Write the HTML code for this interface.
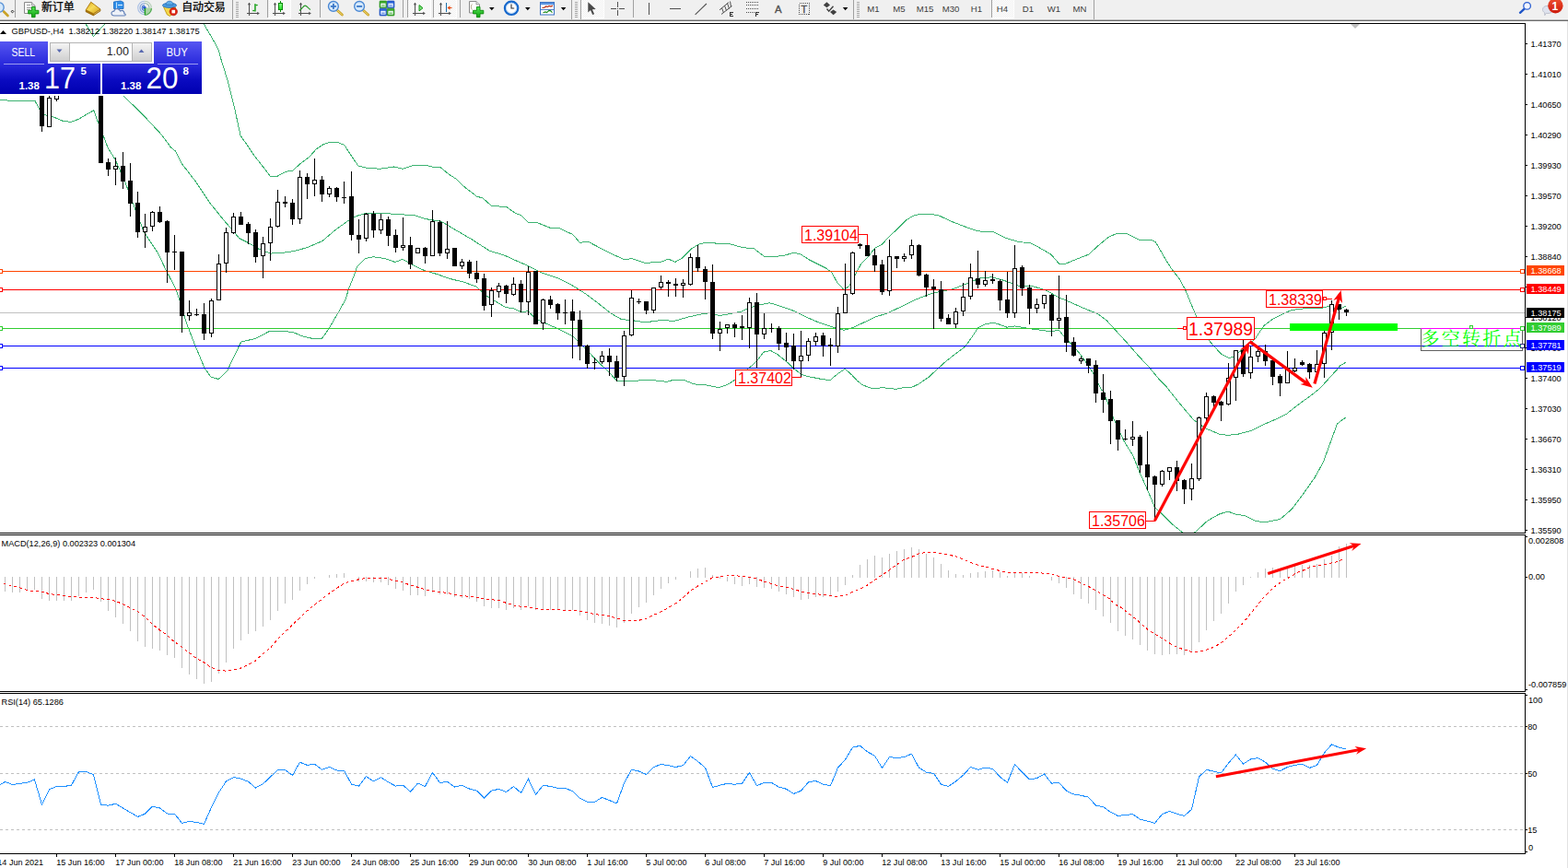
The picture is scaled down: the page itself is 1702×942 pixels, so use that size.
<!DOCTYPE html>
<html><head><meta charset="utf-8"><title>GBPUSD H4</title>
<style>html,body{margin:0;padding:0;background:#fff;overflow:hidden}body{width:1702px;height:942px;position:relative;font-family:"Liberation Sans",sans-serif}</style></head>
<body>
<svg width="1702" height="942" viewBox="0 0 1702 942" style="position:absolute;left:0;top:0">
<defs>
<clipPath id="cm"><rect x="0" y="26" width="1655" height="552"/></clipPath>
<linearGradient id="gb1" x1="0" y1="0" x2="0" y2="1"><stop offset="0" stop-color="#5656f2"/><stop offset="1" stop-color="#2a2adc"/></linearGradient>
<linearGradient id="gb2" x1="0" y1="0" x2="0" y2="1"><stop offset="0" stop-color="#2c2cde"/><stop offset="0.55" stop-color="#0a0ac0"/><stop offset="1" stop-color="#0000b0"/></linearGradient>
<linearGradient id="gbtn" x1="0" y1="0" x2="0" y2="1"><stop offset="0" stop-color="#f4f4f4"/><stop offset="1" stop-color="#cfcfcf"/></linearGradient>
<linearGradient id="gred" x1="0" y1="0" x2="0" y2="1"><stop offset="0" stop-color="#ee5030"/><stop offset="1" stop-color="#cc1a0c"/></linearGradient>
<linearGradient id="ggr" x1="0" y1="0" x2="0" y2="1"><stop offset="0" stop-color="#58e858"/><stop offset="1" stop-color="#10a010"/></linearGradient>
<pattern id="hatch" width="2" height="2" patternUnits="userSpaceOnUse"><rect width="2" height="2" fill="#f0f0f0"/><rect width="1" height="1" fill="#ffffff"/><rect x="1" y="1" width="1" height="1" fill="#ffffff"/></pattern>
<linearGradient id="ggr2" x1="0" y1="0" x2="0" y2="1"><stop offset="0" stop-color="#8cff8c"/><stop offset="1" stop-color="#1ee01e"/></linearGradient>
</defs>
<rect width="1702" height="942" fill="#fff"/>
<g clip-path="url(#cm)" shape-rendering="crispEdges">
<polyline fill="none" stroke="#3cb371" stroke-width="1" points="91.8,24.0 101.4,39.5 115.8,24.0"/>
<polyline fill="none" stroke="#3cb371" stroke-width="1" points="220.2,24.0 220.7,25.0 233.0,46.2 237.6,55.1 240.0,64.5 247.0,87.0 254.5,117.1 261.1,147.2 270.1,160.0 275.2,167.9 285.5,181.0 293.1,191.0 301.5,191.0 310.0,186.3 317.5,185.2 326.0,177.7 335.4,170.7 342.9,162.2 350.4,157.0 357.9,154.3 366.4,154.3 373.9,157.5 380.5,167.9 389.0,180.1 397.4,182.0 412.5,183.3 427.5,181.0 436.9,183.3 448.2,179.5 463.2,179.5 468.9,181.0 477.3,181.0 487.7,189.5 495.2,194.2 502.7,201.7 517.5,213.2 524.1,215.0 533.5,223.5 549.5,224.4 559.8,231.6 565.4,233.5 573.0,241.0 582.4,241.4 597.4,247.4 606.8,247.6 621.8,254.5 629.4,263.4 637.8,262.0 663.2,275.2 678.2,281.8 685.8,280.5 700.8,285.5 718.8,283.9 725.4,281.1 732.9,284.3 740.4,280.2 750.8,269.8 758.3,265.1 765.8,263.2 779.0,264.2 792.1,264.7 805.3,268.5 818.4,269.8 829.7,278.3 842.9,278.3 852.3,277.0 861.7,274.1 869.2,276.0 878.6,282.0 888.0,286.7 897.4,291.4 903.0,296.1 908.7,306.5 916.2,314.6 921.8,310.2 928.4,298.0 935.0,285.8 942.5,278.3 950.0,268.9 957.6,265.1 965.1,256.7 974.5,248.2 983.9,238.8 991.4,234.1 998.9,232.2 1010.2,232.2 1019.6,234.1 1032.0,240.0 1046.7,245.7 1061.0,250.8 1079.0,251.9 1092.1,258.5 1107.2,262.8 1118.4,263.5 1131.6,270.7 1141.0,276.3 1149.5,286.1 1157.0,286.1 1169.2,281.0 1181.4,276.3 1191.8,266.9 1203.0,257.5 1212.4,253.2 1222.8,253.4 1236.9,260.3 1250.0,260.3 1254.7,263.2 1263.2,278.2 1270.7,290.4 1280.1,302.7 1286.2,313.5 1293.3,330.8 1298.9,344.0 1306.3,359.1 1313.0,370.3 1319.6,377.8 1326.1,384.6 1334.3,388.7 1339.2,387.1 1350.0,378.0 1361.8,368.5 1372.1,353.3 1382.0,345.9 1391.9,341.0 1401.7,336.6 1411.6,335.2 1423.1,334.1 1435.5,334.1 1442.9,332.4 1452.7,336.1 1460.6,332.3"/>
<polyline fill="none" stroke="#3cb371" stroke-width="1" points="100.0,78.0 134.1,104.2 153.9,123.2 175.0,145.8 185.5,160.0 190.6,164.2 196.8,176.9 212.8,197.6 227.8,220.2 242.9,239.0 250.4,247.4 259.8,258.7 269.2,263.4 280.5,270.0 293.7,275.1 306.8,274.3 320.0,272.4 333.1,268.7 350.0,261.5 363.2,250.2 378.2,239.3 387.6,234.3 397.0,231.4 408.3,231.1 417.9,231.6 450.8,233.8 462.0,237.6 479.0,240.4 494.0,249.3 512.8,260.2 531.6,272.4 546.7,276.7 559.8,282.7 573.0,288.4 588.0,295.9 604.9,301.5 620.0,309.0 635.0,318.4 650.0,329.7 663.2,340.1 674.5,346.6 685.8,347.6 700.8,349.8 710.2,348.5 718.8,347.5 732.0,348.4 747.0,344.1 763.9,340.3 771.4,339.8 780.8,342.6 794.0,340.3 805.3,337.9 812.8,334.1 824.1,330.9 835.4,328.7 846.7,332.2 859.8,336.6 873.0,343.1 888.0,349.7 905.0,355.4 916.2,358.2 925.6,355.7 936.9,350.3 950.0,344.1 963.2,339.9 978.2,332.8 993.3,325.3 1008.3,319.6 1015.0,317.7 1033.8,313.9 1050.8,307.3 1063.9,301.7 1077.1,300.8 1090.2,304.5 1105.3,310.2 1120.3,310.5 1135.4,314.9 1148.5,322.4 1161.7,328.0 1176.7,334.6 1191.8,340.8 1201.2,347.8 1210.6,358.1 1221.8,370.3 1235.0,385.4 1248.2,399.5 1257.6,411.0 1265.3,418.8 1280.3,437.6 1295.4,455.5 1308.5,464.9 1323.6,471.1 1333.0,472.4 1344.2,471.1 1357.4,467.7 1370.6,461.1 1383.7,455.5 1396.9,448.9 1410.0,438.5 1423.2,429.1 1432.6,421.6 1442.0,411.3 1451.4,400.9 1454.4,396.9 1461.0,393.1"/>
<polyline fill="none" stroke="#3cb371" stroke-width="1" points="0.0,108.4 18.4,109.8 37.8,109.1 43.0,119.0 48.0,124.6 56.5,126.3 68.5,131.4 76.9,132.4 84.7,129.6 101.7,119.7 106.6,133.1 112.2,147.2 116.9,160.0 125.5,174.0 135.5,196.6 144.2,220.2 156.4,252.1 171.4,274.7 180.8,294.4 191.2,314.2 195.9,328.2 202.5,350.8 211.9,375.2 222.2,399.6 228.8,409.0 237.2,411.5 246.6,402.5 254.2,386.5 261.7,371.1 277.7,367.3 291.8,359.8 304.0,359.2 318.1,360.5 328.4,364.9 338.8,367.3 349.7,367.1 356.6,357.3 367.0,339.5 375.4,324.4 378.2,314.2 383.9,300.0 387.6,289.7 397.0,280.3 405.5,278.8 409.4,279.3 418.8,280.8 429.1,284.6 436.7,281.2 447.0,286.9 460.2,293.4 475.2,297.8 488.4,302.5 503.4,306.2 516.6,310.9 529.7,322.2 539.1,327.8 548.5,333.5 557.9,335.0 566.6,338.9 573.2,337.6 581.6,346.1 592.0,350.8 607.0,357.3 622.0,364.9 635.2,378.0 648.4,392.1 659.6,402.5 669.6,413.4 687.8,413.4 704.8,412.2 723.6,414.3 729.2,412.8 742.4,412.4 753.6,416.9 766.8,417.9 780.0,420.7 789.4,417.5 798.4,411.9 813.8,398.7 821.3,392.1 828.8,382.2 836.4,380.3 843.9,384.6 853.3,392.1 860.8,399.1 869.9,406.4 876.9,408.5 892.5,411.6 900.9,412.7 909.4,405.6 917.2,400.4 924.9,407.1 930.6,413.4 936.2,417.7 946.1,421.5 958.8,420.8 972.9,422.3 981.4,420.5 989.9,420.2 996.9,416.9 1008.2,409.2 1018.1,400.0 1026.6,392.2 1036.5,384.5 1047.8,376.0 1056.2,364.0 1061.9,355.5 1069.0,352.0 1077.4,350.2 1084.5,352.0 1093.0,355.2 1101.5,354.0 1118.4,356.8 1131.6,358.5 1141.0,360.0 1149.5,358.1 1156.0,366.6 1167.3,377.8 1176.7,390.1 1186.1,404.2 1195.5,423.0 1197.6,424.4 1208.9,454.5 1220.2,479.0 1229.6,494.0 1237.1,512.8 1245.5,531.6 1253.4,550.4 1261.5,557.9 1272.8,569.2 1282.2,576.7 1290.0,582.0 1298.2,576.7 1310.4,565.4 1323.6,557.9 1333.0,555.1 1340.5,557.9 1351.8,559.8 1363.0,565.4 1372.4,566.9 1389.4,563.6 1402.5,552.3 1413.8,537.2 1427.0,518.4 1436.4,501.5 1443.9,480.8 1451.4,460.2 1457.0,455.5 1460.8,453.2"/>
<rect x="0" y="294" width="1655" height="1" fill="#ff4500"/>
<rect x="0" y="314" width="1655" height="1" fill="#ff0000"/>
<rect x="0" y="339" width="1655" height="1" fill="#c0c0c0"/>
<rect x="0" y="356" width="1655" height="1" fill="#32cd32"/>
<rect x="0" y="375" width="1655" height="1" fill="#0000ff"/>
<rect x="0" y="399" width="1655" height="1" fill="#0000ff"/>
<rect x="45" y="60" width="1" height="83" fill="#000"/>
<rect x="43" y="60" width="5" height="77" fill="#000"/>
<rect x="53" y="95" width="1" height="43" fill="#000"/>
<rect x="51" y="106" width="5" height="32" fill="#000"/>
<rect x="52" y="107" width="3" height="30" fill="#fff"/>
<rect x="61" y="95" width="1" height="15" fill="#000"/>
<rect x="59" y="95" width="5" height="13" fill="#000"/>
<rect x="60" y="96" width="3" height="11" fill="#fff"/>
<rect x="109" y="60" width="1" height="117" fill="#000"/>
<rect x="107" y="60" width="5" height="117" fill="#000"/>
<rect x="117" y="172" width="1" height="19" fill="#000"/>
<rect x="115" y="176" width="5" height="8" fill="#000"/>
<rect x="125" y="171" width="1" height="30" fill="#000"/>
<rect x="123" y="180" width="5" height="4" fill="#000"/>
<rect x="124" y="181" width="3" height="2" fill="#fff"/>
<rect x="133" y="165" width="1" height="40" fill="#000"/>
<rect x="131" y="180" width="5" height="17" fill="#000"/>
<rect x="141" y="177" width="1" height="58" fill="#000"/>
<rect x="139" y="196" width="5" height="25" fill="#000"/>
<rect x="149" y="208" width="1" height="50" fill="#000"/>
<rect x="147" y="220" width="5" height="32" fill="#000"/>
<rect x="157" y="232" width="1" height="37" fill="#000"/>
<rect x="155" y="246" width="5" height="6" fill="#000"/>
<rect x="156" y="247" width="3" height="4" fill="#fff"/>
<rect x="165" y="229" width="1" height="22" fill="#000"/>
<rect x="163" y="230" width="5" height="16" fill="#000"/>
<rect x="164" y="231" width="3" height="14" fill="#fff"/>
<rect x="173" y="224" width="1" height="18" fill="#000"/>
<rect x="171" y="230" width="5" height="11" fill="#000"/>
<rect x="181" y="239" width="1" height="68" fill="#000"/>
<rect x="179" y="240" width="5" height="34" fill="#000"/>
<rect x="189" y="255" width="1" height="38" fill="#000"/>
<rect x="187" y="273" width="5" height="1" fill="#000"/>
<rect x="197" y="273" width="1" height="88" fill="#000"/>
<rect x="195" y="273" width="5" height="70" fill="#000"/>
<rect x="205" y="326" width="1" height="22" fill="#000"/>
<rect x="203" y="339" width="5" height="4" fill="#000"/>
<rect x="204" y="340" width="3" height="2" fill="#fff"/>
<rect x="213" y="335" width="1" height="8" fill="#000"/>
<rect x="211" y="341" width="5" height="1" fill="#000"/>
<rect x="221" y="329" width="1" height="40" fill="#000"/>
<rect x="219" y="341" width="5" height="21" fill="#000"/>
<rect x="229" y="324" width="1" height="42" fill="#000"/>
<rect x="227" y="326" width="5" height="36" fill="#000"/>
<rect x="228" y="327" width="3" height="34" fill="#fff"/>
<rect x="237" y="276" width="1" height="50" fill="#000"/>
<rect x="235" y="286" width="5" height="40" fill="#000"/>
<rect x="236" y="287" width="3" height="38" fill="#fff"/>
<rect x="245" y="247" width="1" height="49" fill="#000"/>
<rect x="243" y="252" width="5" height="34" fill="#000"/>
<rect x="244" y="253" width="3" height="32" fill="#fff"/>
<rect x="253" y="231" width="1" height="23" fill="#000"/>
<rect x="251" y="235" width="5" height="18" fill="#000"/>
<rect x="252" y="236" width="3" height="16" fill="#fff"/>
<rect x="261" y="230" width="1" height="14" fill="#000"/>
<rect x="259" y="235" width="5" height="9" fill="#000"/>
<rect x="269" y="241" width="1" height="24" fill="#000"/>
<rect x="267" y="243" width="5" height="10" fill="#000"/>
<rect x="277" y="249" width="1" height="36" fill="#000"/>
<rect x="275" y="252" width="5" height="27" fill="#000"/>
<rect x="285" y="257" width="1" height="45" fill="#000"/>
<rect x="283" y="264" width="5" height="14" fill="#000"/>
<rect x="284" y="265" width="3" height="12" fill="#fff"/>
<rect x="293" y="237" width="1" height="46" fill="#000"/>
<rect x="291" y="246" width="5" height="18" fill="#000"/>
<rect x="292" y="247" width="3" height="16" fill="#fff"/>
<rect x="301" y="206" width="1" height="41" fill="#000"/>
<rect x="299" y="219" width="5" height="27" fill="#000"/>
<rect x="300" y="220" width="3" height="25" fill="#fff"/>
<rect x="309" y="213" width="1" height="12" fill="#000"/>
<rect x="307" y="219" width="5" height="2" fill="#000"/>
<rect x="317" y="216" width="1" height="28" fill="#000"/>
<rect x="315" y="220" width="5" height="18" fill="#000"/>
<rect x="325" y="185" width="1" height="58" fill="#000"/>
<rect x="323" y="192" width="5" height="46" fill="#000"/>
<rect x="324" y="193" width="3" height="44" fill="#fff"/>
<rect x="333" y="188" width="1" height="28" fill="#000"/>
<rect x="331" y="192" width="5" height="8" fill="#000"/>
<rect x="341" y="172" width="1" height="41" fill="#000"/>
<rect x="339" y="195" width="5" height="5" fill="#000"/>
<rect x="340" y="196" width="3" height="3" fill="#fff"/>
<rect x="349" y="191" width="1" height="28" fill="#000"/>
<rect x="347" y="195" width="5" height="16" fill="#000"/>
<rect x="357" y="202" width="1" height="12" fill="#000"/>
<rect x="355" y="204" width="5" height="7" fill="#000"/>
<rect x="356" y="205" width="3" height="5" fill="#fff"/>
<rect x="365" y="203" width="1" height="16" fill="#000"/>
<rect x="363" y="204" width="5" height="10" fill="#000"/>
<rect x="373" y="197" width="1" height="24" fill="#000"/>
<rect x="371" y="214" width="5" height="1" fill="#000"/>
<rect x="381" y="186" width="1" height="75" fill="#000"/>
<rect x="379" y="213" width="5" height="42" fill="#000"/>
<rect x="389" y="238" width="1" height="37" fill="#000"/>
<rect x="387" y="255" width="5" height="5" fill="#000"/>
<rect x="397" y="231" width="1" height="31" fill="#000"/>
<rect x="395" y="232" width="5" height="27" fill="#000"/>
<rect x="396" y="233" width="3" height="25" fill="#fff"/>
<rect x="405" y="229" width="1" height="29" fill="#000"/>
<rect x="403" y="232" width="5" height="18" fill="#000"/>
<rect x="413" y="232" width="1" height="22" fill="#000"/>
<rect x="411" y="238" width="5" height="12" fill="#000"/>
<rect x="412" y="239" width="3" height="10" fill="#fff"/>
<rect x="421" y="235" width="1" height="32" fill="#000"/>
<rect x="419" y="238" width="5" height="18" fill="#000"/>
<rect x="429" y="249" width="1" height="25" fill="#000"/>
<rect x="427" y="255" width="5" height="14" fill="#000"/>
<rect x="437" y="236" width="1" height="36" fill="#000"/>
<rect x="435" y="266" width="5" height="3" fill="#000"/>
<rect x="436" y="267" width="3" height="1" fill="#fff"/>
<rect x="445" y="257" width="1" height="35" fill="#000"/>
<rect x="443" y="266" width="5" height="21" fill="#000"/>
<rect x="453" y="269" width="1" height="6" fill="#000"/>
<rect x="451" y="269" width="5" height="6" fill="#000"/>
<rect x="452" y="270" width="3" height="4" fill="#fff"/>
<rect x="461" y="268" width="1" height="18" fill="#000"/>
<rect x="459" y="269" width="5" height="9" fill="#000"/>
<rect x="469" y="228" width="1" height="50" fill="#000"/>
<rect x="467" y="240" width="5" height="38" fill="#000"/>
<rect x="468" y="241" width="3" height="36" fill="#fff"/>
<rect x="477" y="239" width="1" height="39" fill="#000"/>
<rect x="475" y="241" width="5" height="34" fill="#000"/>
<rect x="485" y="240" width="1" height="41" fill="#000"/>
<rect x="483" y="270" width="5" height="5" fill="#000"/>
<rect x="484" y="271" width="3" height="3" fill="#fff"/>
<rect x="493" y="269" width="1" height="20" fill="#000"/>
<rect x="491" y="269" width="5" height="20" fill="#000"/>
<rect x="501" y="281" width="1" height="11" fill="#000"/>
<rect x="499" y="284" width="5" height="5" fill="#000"/>
<rect x="500" y="285" width="3" height="3" fill="#fff"/>
<rect x="509" y="282" width="1" height="20" fill="#000"/>
<rect x="507" y="284" width="5" height="13" fill="#000"/>
<rect x="517" y="283" width="1" height="24" fill="#000"/>
<rect x="515" y="296" width="5" height="7" fill="#000"/>
<rect x="525" y="297" width="1" height="40" fill="#000"/>
<rect x="523" y="302" width="5" height="30" fill="#000"/>
<rect x="533" y="312" width="1" height="32" fill="#000"/>
<rect x="531" y="315" width="5" height="16" fill="#000"/>
<rect x="532" y="316" width="3" height="14" fill="#fff"/>
<rect x="541" y="307" width="1" height="16" fill="#000"/>
<rect x="539" y="310" width="5" height="7" fill="#000"/>
<rect x="540" y="311" width="3" height="5" fill="#fff"/>
<rect x="549" y="309" width="1" height="20" fill="#000"/>
<rect x="547" y="310" width="5" height="9" fill="#000"/>
<rect x="557" y="301" width="1" height="20" fill="#000"/>
<rect x="555" y="308" width="5" height="12" fill="#000"/>
<rect x="556" y="309" width="3" height="10" fill="#fff"/>
<rect x="565" y="304" width="1" height="35" fill="#000"/>
<rect x="563" y="308" width="5" height="20" fill="#000"/>
<rect x="573" y="289" width="1" height="53" fill="#000"/>
<rect x="571" y="295" width="5" height="33" fill="#000"/>
<rect x="572" y="296" width="3" height="31" fill="#fff"/>
<rect x="581" y="294" width="1" height="58" fill="#000"/>
<rect x="579" y="294" width="5" height="58" fill="#000"/>
<rect x="589" y="324" width="1" height="34" fill="#000"/>
<rect x="587" y="325" width="5" height="26" fill="#000"/>
<rect x="588" y="326" width="3" height="24" fill="#fff"/>
<rect x="597" y="321" width="1" height="14" fill="#000"/>
<rect x="595" y="325" width="5" height="6" fill="#000"/>
<rect x="605" y="329" width="1" height="18" fill="#000"/>
<rect x="603" y="330" width="5" height="10" fill="#000"/>
<rect x="613" y="325" width="1" height="27" fill="#000"/>
<rect x="611" y="339" width="5" height="1" fill="#000"/>
<rect x="621" y="325" width="1" height="64" fill="#000"/>
<rect x="619" y="338" width="5" height="10" fill="#000"/>
<rect x="629" y="337" width="1" height="54" fill="#000"/>
<rect x="627" y="347" width="5" height="29" fill="#000"/>
<rect x="637" y="374" width="1" height="26" fill="#000"/>
<rect x="635" y="375" width="5" height="20" fill="#000"/>
<rect x="645" y="388" width="1" height="13" fill="#000"/>
<rect x="643" y="393" width="5" height="1" fill="#000"/>
<rect x="653" y="381" width="1" height="14" fill="#000"/>
<rect x="651" y="386" width="5" height="7" fill="#000"/>
<rect x="652" y="387" width="3" height="5" fill="#fff"/>
<rect x="661" y="378" width="1" height="30" fill="#000"/>
<rect x="659" y="386" width="5" height="7" fill="#000"/>
<rect x="669" y="386" width="1" height="28" fill="#000"/>
<rect x="667" y="392" width="5" height="18" fill="#000"/>
<rect x="677" y="359" width="1" height="60" fill="#000"/>
<rect x="675" y="364" width="5" height="45" fill="#000"/>
<rect x="676" y="365" width="3" height="43" fill="#fff"/>
<rect x="685" y="315" width="1" height="50" fill="#000"/>
<rect x="683" y="323" width="5" height="41" fill="#000"/>
<rect x="684" y="324" width="3" height="39" fill="#fff"/>
<rect x="693" y="324" width="1" height="6" fill="#000"/>
<rect x="691" y="327" width="5" height="1" fill="#000"/>
<rect x="701" y="327" width="1" height="14" fill="#000"/>
<rect x="699" y="327" width="5" height="10" fill="#000"/>
<rect x="709" y="312" width="1" height="28" fill="#000"/>
<rect x="707" y="312" width="5" height="25" fill="#000"/>
<rect x="708" y="313" width="3" height="23" fill="#fff"/>
<rect x="717" y="299" width="1" height="15" fill="#000"/>
<rect x="715" y="306" width="5" height="6" fill="#000"/>
<rect x="716" y="307" width="3" height="4" fill="#fff"/>
<rect x="725" y="304" width="1" height="18" fill="#000"/>
<rect x="723" y="306" width="5" height="2" fill="#000"/>
<rect x="733" y="302" width="1" height="20" fill="#000"/>
<rect x="731" y="308" width="5" height="2" fill="#000"/>
<rect x="741" y="303" width="1" height="20" fill="#000"/>
<rect x="739" y="307" width="5" height="3" fill="#000"/>
<rect x="740" y="308" width="3" height="1" fill="#fff"/>
<rect x="749" y="275" width="1" height="35" fill="#000"/>
<rect x="747" y="279" width="5" height="30" fill="#000"/>
<rect x="748" y="280" width="3" height="28" fill="#fff"/>
<rect x="757" y="266" width="1" height="29" fill="#000"/>
<rect x="755" y="279" width="5" height="12" fill="#000"/>
<rect x="765" y="289" width="1" height="36" fill="#000"/>
<rect x="763" y="292" width="5" height="14" fill="#000"/>
<rect x="773" y="287" width="1" height="81" fill="#000"/>
<rect x="771" y="306" width="5" height="56" fill="#000"/>
<rect x="781" y="349" width="1" height="32" fill="#000"/>
<rect x="779" y="357" width="5" height="5" fill="#000"/>
<rect x="780" y="358" width="3" height="3" fill="#fff"/>
<rect x="789" y="352" width="1" height="10" fill="#000"/>
<rect x="787" y="352" width="5" height="4" fill="#000"/>
<rect x="788" y="353" width="3" height="2" fill="#fff"/>
<rect x="797" y="350" width="1" height="16" fill="#000"/>
<rect x="795" y="352" width="5" height="4" fill="#000"/>
<rect x="805" y="342" width="1" height="27" fill="#000"/>
<rect x="803" y="354" width="5" height="2" fill="#000"/>
<rect x="813" y="323" width="1" height="55" fill="#000"/>
<rect x="811" y="328" width="5" height="28" fill="#000"/>
<rect x="812" y="329" width="3" height="26" fill="#fff"/>
<rect x="821" y="318" width="1" height="81" fill="#000"/>
<rect x="819" y="328" width="5" height="35" fill="#000"/>
<rect x="829" y="340" width="1" height="28" fill="#000"/>
<rect x="827" y="356" width="5" height="7" fill="#000"/>
<rect x="828" y="357" width="3" height="5" fill="#fff"/>
<rect x="837" y="351" width="1" height="10" fill="#000"/>
<rect x="835" y="356" width="5" height="1" fill="#000"/>
<rect x="845" y="354" width="1" height="26" fill="#000"/>
<rect x="843" y="356" width="5" height="17" fill="#000"/>
<rect x="853" y="361" width="1" height="31" fill="#000"/>
<rect x="851" y="372" width="5" height="5" fill="#000"/>
<rect x="861" y="362" width="1" height="39" fill="#000"/>
<rect x="859" y="375" width="5" height="17" fill="#000"/>
<rect x="869" y="359" width="1" height="51" fill="#000"/>
<rect x="867" y="386" width="5" height="6" fill="#000"/>
<rect x="868" y="387" width="3" height="4" fill="#fff"/>
<rect x="877" y="367" width="1" height="25" fill="#000"/>
<rect x="875" y="370" width="5" height="16" fill="#000"/>
<rect x="876" y="371" width="3" height="14" fill="#fff"/>
<rect x="885" y="361" width="1" height="14" fill="#000"/>
<rect x="883" y="365" width="5" height="6" fill="#000"/>
<rect x="884" y="366" width="3" height="4" fill="#fff"/>
<rect x="893" y="361" width="1" height="26" fill="#000"/>
<rect x="891" y="364" width="5" height="11" fill="#000"/>
<rect x="901" y="367" width="1" height="30" fill="#000"/>
<rect x="899" y="374" width="5" height="2" fill="#000"/>
<rect x="909" y="333" width="1" height="50" fill="#000"/>
<rect x="907" y="340" width="5" height="36" fill="#000"/>
<rect x="908" y="341" width="3" height="34" fill="#fff"/>
<rect x="917" y="286" width="1" height="54" fill="#000"/>
<rect x="915" y="319" width="5" height="21" fill="#000"/>
<rect x="916" y="320" width="3" height="19" fill="#fff"/>
<rect x="925" y="273" width="1" height="47" fill="#000"/>
<rect x="923" y="274" width="5" height="45" fill="#000"/>
<rect x="924" y="275" width="3" height="43" fill="#fff"/>
<rect x="933" y="264" width="1" height="6" fill="#000"/>
<rect x="931" y="265" width="5" height="2" fill="#000"/>
<rect x="941" y="254" width="1" height="24" fill="#000"/>
<rect x="939" y="266" width="5" height="12" fill="#000"/>
<rect x="949" y="270" width="1" height="25" fill="#000"/>
<rect x="947" y="277" width="5" height="11" fill="#000"/>
<rect x="957" y="282" width="1" height="38" fill="#000"/>
<rect x="955" y="287" width="5" height="30" fill="#000"/>
<rect x="965" y="260" width="1" height="61" fill="#000"/>
<rect x="963" y="278" width="5" height="38" fill="#000"/>
<rect x="964" y="279" width="3" height="36" fill="#fff"/>
<rect x="973" y="278" width="1" height="13" fill="#000"/>
<rect x="971" y="278" width="5" height="3" fill="#000"/>
<rect x="981" y="275" width="1" height="9" fill="#000"/>
<rect x="979" y="278" width="5" height="3" fill="#000"/>
<rect x="980" y="279" width="3" height="1" fill="#fff"/>
<rect x="989" y="260" width="1" height="21" fill="#000"/>
<rect x="987" y="266" width="5" height="11" fill="#000"/>
<rect x="988" y="267" width="3" height="9" fill="#fff"/>
<rect x="997" y="265" width="1" height="35" fill="#000"/>
<rect x="995" y="266" width="5" height="33" fill="#000"/>
<rect x="1005" y="297" width="1" height="25" fill="#000"/>
<rect x="1003" y="298" width="5" height="14" fill="#000"/>
<rect x="1013" y="303" width="1" height="54" fill="#000"/>
<rect x="1011" y="311" width="5" height="3" fill="#000"/>
<rect x="1021" y="305" width="1" height="44" fill="#000"/>
<rect x="1019" y="314" width="5" height="32" fill="#000"/>
<rect x="1029" y="341" width="1" height="11" fill="#000"/>
<rect x="1027" y="345" width="5" height="7" fill="#000"/>
<rect x="1037" y="334" width="1" height="22" fill="#000"/>
<rect x="1035" y="338" width="5" height="14" fill="#000"/>
<rect x="1036" y="339" width="3" height="12" fill="#fff"/>
<rect x="1045" y="307" width="1" height="36" fill="#000"/>
<rect x="1043" y="322" width="5" height="16" fill="#000"/>
<rect x="1044" y="323" width="3" height="14" fill="#fff"/>
<rect x="1053" y="286" width="1" height="39" fill="#000"/>
<rect x="1051" y="301" width="5" height="21" fill="#000"/>
<rect x="1052" y="302" width="3" height="19" fill="#fff"/>
<rect x="1061" y="272" width="1" height="41" fill="#000"/>
<rect x="1059" y="302" width="5" height="7" fill="#000"/>
<rect x="1069" y="294" width="1" height="17" fill="#000"/>
<rect x="1067" y="304" width="5" height="5" fill="#000"/>
<rect x="1068" y="305" width="3" height="3" fill="#fff"/>
<rect x="1077" y="297" width="1" height="11" fill="#000"/>
<rect x="1075" y="303" width="5" height="2" fill="#000"/>
<rect x="1085" y="303" width="1" height="34" fill="#000"/>
<rect x="1083" y="305" width="5" height="21" fill="#000"/>
<rect x="1093" y="295" width="1" height="50" fill="#000"/>
<rect x="1091" y="325" width="5" height="15" fill="#000"/>
<rect x="1101" y="266" width="1" height="79" fill="#000"/>
<rect x="1099" y="291" width="5" height="49" fill="#000"/>
<rect x="1100" y="292" width="3" height="47" fill="#fff"/>
<rect x="1109" y="288" width="1" height="33" fill="#000"/>
<rect x="1107" y="290" width="5" height="23" fill="#000"/>
<rect x="1117" y="309" width="1" height="43" fill="#000"/>
<rect x="1115" y="312" width="5" height="23" fill="#000"/>
<rect x="1125" y="324" width="1" height="16" fill="#000"/>
<rect x="1123" y="330" width="5" height="5" fill="#000"/>
<rect x="1124" y="331" width="3" height="3" fill="#fff"/>
<rect x="1133" y="320" width="1" height="15" fill="#000"/>
<rect x="1131" y="320" width="5" height="10" fill="#000"/>
<rect x="1132" y="321" width="3" height="8" fill="#fff"/>
<rect x="1141" y="319" width="1" height="46" fill="#000"/>
<rect x="1139" y="320" width="5" height="28" fill="#000"/>
<rect x="1149" y="299" width="1" height="58" fill="#000"/>
<rect x="1147" y="345" width="5" height="3" fill="#000"/>
<rect x="1148" y="346" width="3" height="1" fill="#fff"/>
<rect x="1157" y="320" width="1" height="62" fill="#000"/>
<rect x="1155" y="344" width="5" height="28" fill="#000"/>
<rect x="1165" y="366" width="1" height="21" fill="#000"/>
<rect x="1163" y="371" width="5" height="15" fill="#000"/>
<rect x="1173" y="387" width="1" height="8" fill="#000"/>
<rect x="1171" y="389" width="5" height="3" fill="#000"/>
<rect x="1172" y="390" width="3" height="1" fill="#fff"/>
<rect x="1181" y="389" width="1" height="16" fill="#000"/>
<rect x="1179" y="389" width="5" height="8" fill="#000"/>
<rect x="1189" y="391" width="1" height="46" fill="#000"/>
<rect x="1187" y="396" width="5" height="31" fill="#000"/>
<rect x="1197" y="406" width="1" height="42" fill="#000"/>
<rect x="1195" y="426" width="5" height="8" fill="#000"/>
<rect x="1205" y="424" width="1" height="58" fill="#000"/>
<rect x="1203" y="433" width="5" height="24" fill="#000"/>
<rect x="1213" y="456" width="1" height="33" fill="#000"/>
<rect x="1211" y="456" width="5" height="21" fill="#000"/>
<rect x="1221" y="466" width="1" height="12" fill="#000"/>
<rect x="1219" y="476" width="5" height="1" fill="#000"/>
<rect x="1229" y="457" width="1" height="27" fill="#000"/>
<rect x="1227" y="474" width="5" height="3" fill="#000"/>
<rect x="1228" y="475" width="3" height="1" fill="#fff"/>
<rect x="1237" y="472" width="1" height="41" fill="#000"/>
<rect x="1235" y="474" width="5" height="31" fill="#000"/>
<rect x="1245" y="468" width="1" height="64" fill="#000"/>
<rect x="1243" y="504" width="5" height="14" fill="#000"/>
<rect x="1253" y="516" width="1" height="49" fill="#000"/>
<rect x="1251" y="517" width="5" height="9" fill="#000"/>
<rect x="1261" y="510" width="1" height="18" fill="#000"/>
<rect x="1259" y="511" width="5" height="15" fill="#000"/>
<rect x="1260" y="512" width="3" height="13" fill="#fff"/>
<rect x="1269" y="507" width="1" height="14" fill="#000"/>
<rect x="1267" y="507" width="5" height="5" fill="#000"/>
<rect x="1268" y="508" width="3" height="3" fill="#fff"/>
<rect x="1277" y="500" width="1" height="33" fill="#000"/>
<rect x="1275" y="507" width="5" height="15" fill="#000"/>
<rect x="1285" y="520" width="1" height="27" fill="#000"/>
<rect x="1283" y="521" width="5" height="10" fill="#000"/>
<rect x="1293" y="503" width="1" height="40" fill="#000"/>
<rect x="1291" y="519" width="5" height="12" fill="#000"/>
<rect x="1292" y="520" width="3" height="10" fill="#fff"/>
<rect x="1301" y="452" width="1" height="70" fill="#000"/>
<rect x="1299" y="453" width="5" height="67" fill="#000"/>
<rect x="1300" y="454" width="3" height="65" fill="#fff"/>
<rect x="1309" y="426" width="1" height="31" fill="#000"/>
<rect x="1307" y="430" width="5" height="24" fill="#000"/>
<rect x="1308" y="431" width="3" height="22" fill="#fff"/>
<rect x="1317" y="429" width="1" height="14" fill="#000"/>
<rect x="1315" y="430" width="5" height="7" fill="#000"/>
<rect x="1325" y="435" width="1" height="22" fill="#000"/>
<rect x="1323" y="436" width="5" height="4" fill="#000"/>
<rect x="1333" y="394" width="1" height="46" fill="#000"/>
<rect x="1331" y="410" width="5" height="29" fill="#000"/>
<rect x="1332" y="411" width="3" height="27" fill="#fff"/>
<rect x="1341" y="380" width="1" height="55" fill="#000"/>
<rect x="1339" y="380" width="5" height="30" fill="#000"/>
<rect x="1340" y="381" width="3" height="28" fill="#fff"/>
<rect x="1349" y="367" width="1" height="42" fill="#000"/>
<rect x="1347" y="380" width="5" height="26" fill="#000"/>
<rect x="1357" y="376" width="1" height="35" fill="#000"/>
<rect x="1355" y="387" width="5" height="18" fill="#000"/>
<rect x="1356" y="388" width="3" height="16" fill="#fff"/>
<rect x="1365" y="378" width="1" height="15" fill="#000"/>
<rect x="1363" y="381" width="5" height="6" fill="#000"/>
<rect x="1364" y="382" width="3" height="4" fill="#fff"/>
<rect x="1373" y="374" width="1" height="23" fill="#000"/>
<rect x="1371" y="381" width="5" height="11" fill="#000"/>
<rect x="1381" y="387" width="1" height="31" fill="#000"/>
<rect x="1379" y="391" width="5" height="18" fill="#000"/>
<rect x="1389" y="406" width="1" height="24" fill="#000"/>
<rect x="1387" y="408" width="5" height="8" fill="#000"/>
<rect x="1397" y="381" width="1" height="35" fill="#000"/>
<rect x="1395" y="399" width="5" height="17" fill="#000"/>
<rect x="1396" y="400" width="3" height="15" fill="#fff"/>
<rect x="1405" y="389" width="1" height="15" fill="#000"/>
<rect x="1403" y="399" width="5" height="4" fill="#000"/>
<rect x="1404" y="400" width="3" height="2" fill="#fff"/>
<rect x="1413" y="391" width="1" height="6" fill="#000"/>
<rect x="1411" y="393" width="5" height="3" fill="#000"/>
<rect x="1421" y="394" width="1" height="17" fill="#000"/>
<rect x="1419" y="395" width="5" height="9" fill="#000"/>
<rect x="1429" y="380" width="1" height="24" fill="#000"/>
<rect x="1427" y="395" width="5" height="9" fill="#000"/>
<rect x="1428" y="396" width="3" height="7" fill="#fff"/>
<rect x="1437" y="359" width="1" height="51" fill="#000"/>
<rect x="1435" y="361" width="5" height="34" fill="#000"/>
<rect x="1436" y="362" width="3" height="32" fill="#fff"/>
<rect x="1445" y="326" width="1" height="54" fill="#000"/>
<rect x="1443" y="330" width="5" height="31" fill="#000"/>
<rect x="1444" y="331" width="3" height="29" fill="#fff"/>
<rect x="1453" y="330" width="1" height="17" fill="#000"/>
<rect x="1451" y="330" width="5" height="6" fill="#000"/>
<rect x="1461" y="335" width="1" height="8" fill="#000"/>
<rect x="1459" y="336" width="5" height="3" fill="#000"/>
</g>
<g shape-rendering="crispEdges" fill="#fff">
<rect x="-1.5" y="292.5" width="4" height="4" stroke="#ff4500"/>
<rect x="1650.5" y="292.5" width="4" height="4" stroke="#ff4500"/>
<rect x="-1.5" y="312.5" width="4" height="4" stroke="#ff0000"/>
<rect x="1650.5" y="312.5" width="4" height="4" stroke="#ff0000"/>
<rect x="-1.5" y="354.5" width="4" height="4" stroke="#32cd32"/>
<rect x="1650.5" y="354.5" width="4" height="4" stroke="#32cd32"/>
<rect x="-1.5" y="373.5" width="4" height="4" stroke="#0000ff"/>
<rect x="1650.5" y="373.5" width="4" height="4" stroke="#0000ff"/>
<rect x="-1.5" y="397.5" width="4" height="4" stroke="#0000ff"/>
<rect x="1650.5" y="397.5" width="4" height="4" stroke="#0000ff"/>
</g>
<rect x="1400" y="351" width="117" height="8" fill="#00ff00" shape-rendering="crispEdges"/>
<g shape-rendering="crispEdges">
<rect x="1542.5" y="356.5" width="110" height="24" fill="none" stroke="#606060"/>
<rect x="1542" y="356" width="111" height="1" fill="#ff00ff"/>
<rect x="1595.5" y="353.5" width="3" height="3" fill="#fff" stroke="#32cd32"/>
<rect x="1650.5" y="354.5" width="4" height="4" fill="#fff" stroke="#32cd32"/>
<rect x="1650.5" y="373.5" width="4" height="4" fill="#fff" stroke="#303080"/>
</g>
<text x="1542.6 1564.8 1587 1609.2 1631.4" y="375" font-size="20" fill="#00ff00" style="font-family:'Liberation Serif','Noto Serif CJK SC',serif">多空转折点</text>
<line x1="1253.4" y1="565.0" x2="1352.8" y2="377.7" stroke="#ff0000" stroke-width="3.2"/>
<polygon points="1356.5,370.6 1354.8,384.4 1352.3,378.6 1346.0,379.7" fill="#ff0000"/>
<line x1="1356.5" y1="370.6" x2="1418.4" y2="416.1" stroke="#ff0000" stroke-width="3.2"/>
<polygon points="1424.8,420.8 1411.4,417.1 1417.5,415.5 1417.3,409.1" fill="#ff0000"/>
<line x1="1426.9" y1="416.5" x2="1453.5" y2="322.7" stroke="#ff0000" stroke-width="3.2"/>
<polygon points="1455.7,315.0 1457.0,328.9 1453.2,323.7 1447.3,326.1" fill="#ff0000"/>
<rect x="870.5" y="245.5" width="61" height="18" fill="#fff" stroke="#ff0000" shape-rendering="crispEdges"/>
<text x="873" y="260.5" font-size="16" fill="#ff0000" style="font-family:'Liberation Sans',sans-serif">1.39104</text>
<rect x="798.5" y="401.5" width="61" height="17" fill="#fff" stroke="#ff0000" shape-rendering="crispEdges"/>
<text x="801" y="416" font-size="16" fill="#ff0000" style="font-family:'Liberation Sans',sans-serif">1.37402</text>
<rect x="1182.5" y="555.5" width="61" height="17.5" fill="#fff" stroke="#ff0000" shape-rendering="crispEdges"/>
<text x="1185" y="570.5" font-size="16" fill="#ff0000" style="font-family:'Liberation Sans',sans-serif">1.35706</text>
<rect x="1374.5" y="315.5" width="61" height="18" fill="#fff" stroke="#ff0000" shape-rendering="crispEdges"/>
<text x="1377" y="330.5" font-size="16" fill="#ff0000" style="font-family:'Liberation Sans',sans-serif">1.38339</text>
<rect x="1288.5" y="344.5" width="73" height="24" fill="#fff" stroke="#ff0000" shape-rendering="crispEdges"/>
<text x="1290" y="364.3" font-size="19.4" fill="#ff0000" style="font-family:'Liberation Sans',sans-serif">1.37989</text>
<g shape-rendering="crispEdges" fill="#ff0000">
<rect x="931" y="254" width="11" height="1"/><rect x="941" y="254" width="1" height="12"/>
<rect x="859" y="409" width="11" height="1"/>
<rect x="1243" y="565" width="11" height="1"/>
<rect x="1435" y="324" width="11" height="1"/>
<rect x="1278" y="356" width="10" height="1"/>
</g>
<rect x="1436.5" y="322.5" width="3" height="3" fill="#fff" stroke="#ff0000" shape-rendering="crispEdges"/>
<rect x="1284.5" y="354.5" width="3" height="3" fill="#fff" stroke="#ff0000" shape-rendering="crispEdges"/>
<polygon points="1466,26 1476,26 1471,31" fill="#c0c0c0"/>
<g shape-rendering="crispEdges">
<rect x="5" y="626" width="1" height="16" fill="#c0c0c0"/>
<rect x="13" y="626" width="1" height="17" fill="#c0c0c0"/>
<rect x="21" y="626" width="1" height="17" fill="#c0c0c0"/>
<rect x="29" y="626" width="1" height="15" fill="#c0c0c0"/>
<rect x="37" y="626" width="1" height="14" fill="#c0c0c0"/>
<rect x="45" y="626" width="1" height="24" fill="#c0c0c0"/>
<rect x="53" y="626" width="1" height="26" fill="#c0c0c0"/>
<rect x="61" y="626" width="1" height="26" fill="#c0c0c0"/>
<rect x="69" y="626" width="1" height="26" fill="#c0c0c0"/>
<rect x="77" y="626" width="1" height="26" fill="#c0c0c0"/>
<rect x="85" y="626" width="1" height="21" fill="#c0c0c0"/>
<rect x="93" y="626" width="1" height="17" fill="#c0c0c0"/>
<rect x="101" y="626" width="1" height="14" fill="#c0c0c0"/>
<rect x="109" y="626" width="1" height="27" fill="#c0c0c0"/>
<rect x="117" y="626" width="1" height="37" fill="#c0c0c0"/>
<rect x="125" y="626" width="1" height="44" fill="#c0c0c0"/>
<rect x="133" y="626" width="1" height="51" fill="#c0c0c0"/>
<rect x="141" y="626" width="1" height="59" fill="#c0c0c0"/>
<rect x="149" y="626" width="1" height="70" fill="#c0c0c0"/>
<rect x="157" y="626" width="1" height="76" fill="#c0c0c0"/>
<rect x="165" y="626" width="1" height="78" fill="#c0c0c0"/>
<rect x="173" y="626" width="1" height="80" fill="#c0c0c0"/>
<rect x="181" y="626" width="1" height="85" fill="#c0c0c0"/>
<rect x="189" y="626" width="1" height="88" fill="#c0c0c0"/>
<rect x="197" y="626" width="1" height="99" fill="#c0c0c0"/>
<rect x="205" y="626" width="1" height="106" fill="#c0c0c0"/>
<rect x="213" y="626" width="1" height="111" fill="#c0c0c0"/>
<rect x="221" y="626" width="1" height="116" fill="#c0c0c0"/>
<rect x="229" y="626" width="1" height="114" fill="#c0c0c0"/>
<rect x="237" y="626" width="1" height="105" fill="#c0c0c0"/>
<rect x="245" y="626" width="1" height="93" fill="#c0c0c0"/>
<rect x="253" y="626" width="1" height="78" fill="#c0c0c0"/>
<rect x="261" y="626" width="1" height="69" fill="#c0c0c0"/>
<rect x="269" y="626" width="1" height="62" fill="#c0c0c0"/>
<rect x="277" y="626" width="1" height="59" fill="#c0c0c0"/>
<rect x="285" y="626" width="1" height="54" fill="#c0c0c0"/>
<rect x="293" y="626" width="1" height="47" fill="#c0c0c0"/>
<rect x="301" y="626" width="1" height="37" fill="#c0c0c0"/>
<rect x="309" y="626" width="1" height="29" fill="#c0c0c0"/>
<rect x="317" y="626" width="1" height="25" fill="#c0c0c0"/>
<rect x="325" y="626" width="1" height="15" fill="#c0c0c0"/>
<rect x="333" y="626" width="1" height="8" fill="#c0c0c0"/>
<rect x="341" y="626" width="1" height="2" fill="#c0c0c0"/>
<rect x="357" y="624" width="1" height="3" fill="#c0c0c0"/>
<rect x="365" y="623" width="1" height="4" fill="#c0c0c0"/>
<rect x="373" y="622" width="1" height="5" fill="#c0c0c0"/>
<rect x="389" y="626" width="1" height="5" fill="#c0c0c0"/>
<rect x="397" y="626" width="1" height="5" fill="#c0c0c0"/>
<rect x="405" y="626" width="1" height="6" fill="#c0c0c0"/>
<rect x="413" y="626" width="1" height="6" fill="#c0c0c0"/>
<rect x="421" y="626" width="1" height="9" fill="#c0c0c0"/>
<rect x="429" y="626" width="1" height="13" fill="#c0c0c0"/>
<rect x="437" y="626" width="1" height="15" fill="#c0c0c0"/>
<rect x="445" y="626" width="1" height="20" fill="#c0c0c0"/>
<rect x="453" y="626" width="1" height="20" fill="#c0c0c0"/>
<rect x="461" y="626" width="1" height="21" fill="#c0c0c0"/>
<rect x="469" y="626" width="1" height="17" fill="#c0c0c0"/>
<rect x="477" y="626" width="1" height="19" fill="#c0c0c0"/>
<rect x="485" y="626" width="1" height="19" fill="#c0c0c0"/>
<rect x="493" y="626" width="1" height="22" fill="#c0c0c0"/>
<rect x="501" y="626" width="1" height="23" fill="#c0c0c0"/>
<rect x="509" y="626" width="1" height="24" fill="#c0c0c0"/>
<rect x="517" y="626" width="1" height="27" fill="#c0c0c0"/>
<rect x="525" y="626" width="1" height="32" fill="#c0c0c0"/>
<rect x="533" y="626" width="1" height="34" fill="#c0c0c0"/>
<rect x="541" y="626" width="1" height="34" fill="#c0c0c0"/>
<rect x="549" y="626" width="1" height="36" fill="#c0c0c0"/>
<rect x="557" y="626" width="1" height="34" fill="#c0c0c0"/>
<rect x="565" y="626" width="1" height="36" fill="#c0c0c0"/>
<rect x="573" y="626" width="1" height="32" fill="#c0c0c0"/>
<rect x="581" y="626" width="1" height="36" fill="#c0c0c0"/>
<rect x="589" y="626" width="1" height="36" fill="#c0c0c0"/>
<rect x="597" y="626" width="1" height="36" fill="#c0c0c0"/>
<rect x="605" y="626" width="1" height="36" fill="#c0c0c0"/>
<rect x="613" y="626" width="1" height="36" fill="#c0c0c0"/>
<rect x="621" y="626" width="1" height="36" fill="#c0c0c0"/>
<rect x="629" y="626" width="1" height="42" fill="#c0c0c0"/>
<rect x="637" y="626" width="1" height="47" fill="#c0c0c0"/>
<rect x="645" y="626" width="1" height="50" fill="#c0c0c0"/>
<rect x="653" y="626" width="1" height="51" fill="#c0c0c0"/>
<rect x="661" y="626" width="1" height="53" fill="#c0c0c0"/>
<rect x="669" y="626" width="1" height="55" fill="#c0c0c0"/>
<rect x="677" y="626" width="1" height="50" fill="#c0c0c0"/>
<rect x="685" y="626" width="1" height="40" fill="#c0c0c0"/>
<rect x="693" y="626" width="1" height="33" fill="#c0c0c0"/>
<rect x="701" y="626" width="1" height="28" fill="#c0c0c0"/>
<rect x="709" y="626" width="1" height="20" fill="#c0c0c0"/>
<rect x="717" y="626" width="1" height="13" fill="#c0c0c0"/>
<rect x="725" y="626" width="1" height="7" fill="#c0c0c0"/>
<rect x="733" y="626" width="1" height="3" fill="#c0c0c0"/>
<rect x="749" y="620" width="1" height="7" fill="#c0c0c0"/>
<rect x="757" y="617" width="1" height="10" fill="#c0c0c0"/>
<rect x="765" y="616" width="1" height="11" fill="#c0c0c0"/>
<rect x="773" y="624" width="1" height="3" fill="#c0c0c0"/>
<rect x="781" y="626" width="1" height="2" fill="#c0c0c0"/>
<rect x="789" y="626" width="1" height="5" fill="#c0c0c0"/>
<rect x="797" y="626" width="1" height="8" fill="#c0c0c0"/>
<rect x="805" y="626" width="1" height="10" fill="#c0c0c0"/>
<rect x="813" y="626" width="1" height="8" fill="#c0c0c0"/>
<rect x="821" y="626" width="1" height="11" fill="#c0c0c0"/>
<rect x="829" y="626" width="1" height="12" fill="#c0c0c0"/>
<rect x="837" y="626" width="1" height="13" fill="#c0c0c0"/>
<rect x="845" y="626" width="1" height="16" fill="#c0c0c0"/>
<rect x="853" y="626" width="1" height="19" fill="#c0c0c0"/>
<rect x="861" y="626" width="1" height="22" fill="#c0c0c0"/>
<rect x="869" y="626" width="1" height="25" fill="#c0c0c0"/>
<rect x="877" y="626" width="1" height="24" fill="#c0c0c0"/>
<rect x="885" y="626" width="1" height="22" fill="#c0c0c0"/>
<rect x="893" y="626" width="1" height="22" fill="#c0c0c0"/>
<rect x="901" y="626" width="1" height="20" fill="#c0c0c0"/>
<rect x="909" y="626" width="1" height="16" fill="#c0c0c0"/>
<rect x="917" y="626" width="1" height="9" fill="#c0c0c0"/>
<rect x="925" y="624" width="1" height="3" fill="#c0c0c0"/>
<rect x="933" y="613" width="1" height="14" fill="#c0c0c0"/>
<rect x="941" y="607" width="1" height="20" fill="#c0c0c0"/>
<rect x="949" y="603" width="1" height="24" fill="#c0c0c0"/>
<rect x="957" y="605" width="1" height="22" fill="#c0c0c0"/>
<rect x="965" y="601" width="1" height="26" fill="#c0c0c0"/>
<rect x="973" y="598" width="1" height="29" fill="#c0c0c0"/>
<rect x="981" y="596" width="1" height="31" fill="#c0c0c0"/>
<rect x="989" y="594" width="1" height="33" fill="#c0c0c0"/>
<rect x="997" y="596" width="1" height="31" fill="#c0c0c0"/>
<rect x="1005" y="601" width="1" height="26" fill="#c0c0c0"/>
<rect x="1013" y="605" width="1" height="22" fill="#c0c0c0"/>
<rect x="1021" y="612" width="1" height="15" fill="#c0c0c0"/>
<rect x="1029" y="619" width="1" height="8" fill="#c0c0c0"/>
<rect x="1037" y="623" width="1" height="4" fill="#c0c0c0"/>
<rect x="1045" y="624" width="1" height="3" fill="#c0c0c0"/>
<rect x="1053" y="622" width="1" height="5" fill="#c0c0c0"/>
<rect x="1061" y="621" width="1" height="6" fill="#c0c0c0"/>
<rect x="1069" y="620" width="1" height="7" fill="#c0c0c0"/>
<rect x="1077" y="619" width="1" height="8" fill="#c0c0c0"/>
<rect x="1085" y="621" width="1" height="6" fill="#c0c0c0"/>
<rect x="1093" y="625" width="1" height="2" fill="#c0c0c0"/>
<rect x="1101" y="622" width="1" height="5" fill="#c0c0c0"/>
<rect x="1109" y="622" width="1" height="5" fill="#c0c0c0"/>
<rect x="1117" y="625" width="1" height="2" fill="#c0c0c0"/>
<rect x="1141" y="626" width="1" height="4" fill="#c0c0c0"/>
<rect x="1149" y="626" width="1" height="7" fill="#c0c0c0"/>
<rect x="1157" y="626" width="1" height="12" fill="#c0c0c0"/>
<rect x="1165" y="626" width="1" height="19" fill="#c0c0c0"/>
<rect x="1173" y="626" width="1" height="24" fill="#c0c0c0"/>
<rect x="1181" y="626" width="1" height="29" fill="#c0c0c0"/>
<rect x="1189" y="626" width="1" height="36" fill="#c0c0c0"/>
<rect x="1197" y="626" width="1" height="43" fill="#c0c0c0"/>
<rect x="1205" y="626" width="1" height="50" fill="#c0c0c0"/>
<rect x="1213" y="626" width="1" height="59" fill="#c0c0c0"/>
<rect x="1221" y="626" width="1" height="64" fill="#c0c0c0"/>
<rect x="1229" y="626" width="1" height="68" fill="#c0c0c0"/>
<rect x="1237" y="626" width="1" height="74" fill="#c0c0c0"/>
<rect x="1245" y="626" width="1" height="80" fill="#c0c0c0"/>
<rect x="1253" y="626" width="1" height="84" fill="#c0c0c0"/>
<rect x="1261" y="626" width="1" height="85" fill="#c0c0c0"/>
<rect x="1269" y="626" width="1" height="84" fill="#c0c0c0"/>
<rect x="1277" y="626" width="1" height="84" fill="#c0c0c0"/>
<rect x="1285" y="626" width="1" height="85" fill="#c0c0c0"/>
<rect x="1293" y="626" width="1" height="82" fill="#c0c0c0"/>
<rect x="1301" y="626" width="1" height="71" fill="#c0c0c0"/>
<rect x="1309" y="626" width="1" height="58" fill="#c0c0c0"/>
<rect x="1317" y="626" width="1" height="48" fill="#c0c0c0"/>
<rect x="1325" y="626" width="1" height="40" fill="#c0c0c0"/>
<rect x="1333" y="626" width="1" height="29" fill="#c0c0c0"/>
<rect x="1341" y="626" width="1" height="16" fill="#c0c0c0"/>
<rect x="1349" y="626" width="1" height="9" fill="#c0c0c0"/>
<rect x="1357" y="626" width="1" height="1" fill="#c0c0c0"/>
<rect x="1365" y="621" width="1" height="6" fill="#c0c0c0"/>
<rect x="1373" y="617" width="1" height="10" fill="#c0c0c0"/>
<rect x="1381" y="616" width="1" height="11" fill="#c0c0c0"/>
<rect x="1389" y="617" width="1" height="10" fill="#c0c0c0"/>
<rect x="1397" y="616" width="1" height="11" fill="#c0c0c0"/>
<rect x="1405" y="614" width="1" height="13" fill="#c0c0c0"/>
<rect x="1413" y="613" width="1" height="14" fill="#c0c0c0"/>
<rect x="1421" y="613" width="1" height="14" fill="#c0c0c0"/>
<rect x="1429" y="612" width="1" height="15" fill="#c0c0c0"/>
<rect x="1437" y="607" width="1" height="20" fill="#c0c0c0"/>
<rect x="1445" y="603" width="1" height="24" fill="#c0c0c0"/>
<rect x="1453" y="593" width="1" height="34" fill="#c0c0c0"/>
<rect x="1461" y="590" width="1" height="37" fill="#c0c0c0"/>
<polyline fill="none" stroke="#ff0000" stroke-width="1" stroke-dasharray="3,3" points="3.7,633.3 13.5,635.9 21.5,637.9 29.6,640.6 37.6,641.5 45.6,642.3 53.5,644.6 61.5,645.6 69.6,646.5 77.6,647.4 85.6,648.3 101.5,648.3 109.5,649.8 117.6,650.5 125.6,652.5 133.5,655.6 141.5,659.8 149.5,663.8 157.6,669.8 165.4,677.5 173.5,683.9 181.5,689.4 189.5,696.7 197.4,702.2 205.4,708.5 213.4,714.6 221.5,719.0 229.5,724.6 237.4,727.4 245.4,728.1 253.4,727.2 261.5,725.0 269.5,721.3 277.3,717.1 285.4,709.5 293.4,703.1 301.4,693.9 309.5,685.7 317.5,678.1 325.6,670.2 333.4,662.9 341.4,656.5 349.5,650.1 357.5,644.1 365.5,638.3 373.4,633.3 381.4,630.6 389.5,628.8 397.5,627.3 405.5,627.3 413.4,627.3 421.4,628.2 429.4,630.4 437.5,632.2 445.5,635.1 453.5,637.3 461.4,639.7 469.4,641.4 477.5,642.5 485.5,643.4 493.5,645.2 501.4,646.5 509.4,647.4 517.5,648.3 525.5,649.6 533.5,650.7 541.4,651.6 549.4,654.3 557.4,656.9 565.5,658.3 573.5,659.2 581.4,660.5 589.4,661.4 597.4,661.4 605.5,661.4 613.5,662.4 621.5,662.4 629.6,663.3 637.4,664.4 645.5,666.6 653.5,667.5 661.5,668.4 669.6,671.1 677.4,673.3 685.4,673.3 693.5,673.3 701.5,671.1 709.5,667.5 717.6,663.8 725.4,659.6 733.5,654.7 741.5,648.7 749.5,641.0 757.6,635.9 765.4,631.5 773.5,626.9 781.5,626.0 789.5,624.9 797.5,624.6 805.4,625.5 813.4,626.4 821.5,627.7 829.5,631.3 837.5,633.3 845.4,636.1 853.4,637.3 861.5,639.5 869.5,641.9 877.5,643.2 885.4,644.6 893.4,645.6 901.5,646.5 909.5,647.4 917.5,646.1 925.6,642.3 933.4,639.2 941.4,635.1 949.5,629.5 957.5,624.0 965.5,618.5 973.4,612.7 981.4,607.2 989.5,604.5 997.5,600.8 1005.5,599.5 1013.6,599.5 1021.4,600.3 1029.4,602.1 1037.5,603.9 1045.5,607.2 1053.5,610.5 1061.6,613.1 1069.4,615.1 1077.5,617.3 1085.5,619.6 1093.5,621.5 1101.4,621.5 1109.4,621.5 1117.5,621.5 1125.5,621.5 1133.5,622.2 1141.6,623.3 1149.4,625.5 1157.4,626.9 1165.5,628.8 1173.5,632.8 1181.5,636.4 1189.4,641.0 1197.4,645.6 1205.5,650.5 1209.5,655.6 1215.5,658.3 1221.5,662.9 1227.4,667.5 1233.8,672.4 1239.3,677.5 1245.6,683.0 1252.0,687.2 1257.5,690.3 1263.0,693.9 1269.6,698.1 1275.8,701.6 1281.2,703.6 1286.7,705.3 1293.5,707.6 1299.5,707.3 1305.9,706.7 1311.4,704.5 1317.8,702.2 1324.2,698.5 1329.6,694.3 1336.0,688.8 1341.5,683.5 1347.9,677.5 1352.5,672.0 1357.9,665.6 1362.5,659.6 1368.0,652.9 1372.5,647.4 1378.0,642.3 1383.5,636.8 1389.9,631.9 1397.2,627.7 1402.7,624.6 1408.1,621.3 1413.6,619.4 1421.5,615.8 1427.3,614.5 1432.8,613.6 1437.5,612.7 1445.4,610.9 1453.4,609.4 1457.4,606.3"/>
</g>
<g shape-rendering="crispEdges">
<line x1="0" y1="788.5" x2="1655" y2="788.5" stroke="#c0c0c0" stroke-width="1" stroke-dasharray="3,3"/>
<line x1="0" y1="839.5" x2="1655" y2="839.5" stroke="#c0c0c0" stroke-width="1" stroke-dasharray="3,3"/>
<line x1="0" y1="900.5" x2="1655" y2="900.5" stroke="#c0c0c0" stroke-width="1" stroke-dasharray="3,3"/>
<polyline fill="none" stroke="#1e90ff" stroke-width="1" points="-2.5,853.5 5.5,848.3 13.5,851.6 21.5,850.3 29.5,849.4 37.5,846.0 45.5,873.3 53.5,856.7 61.5,853.5 69.5,853.5 77.5,852.2 85.5,837.5 93.5,837.5 101.5,840.7 109.5,873.3 117.5,874.2 125.5,872.3 133.5,877.0 141.5,881.7 149.5,886.4 157.5,883.2 165.5,875.1 173.5,877.0 181.5,883.0 189.5,883.2 197.5,893.4 205.5,891.5 213.5,892.4 221.5,894.3 229.5,876.1 237.5,860.1 245.5,847.9 253.5,843.6 261.5,845.1 269.5,848.3 277.5,855.0 285.5,850.7 293.5,843.2 301.5,835.3 309.5,835.7 317.5,841.3 325.5,827.2 333.5,830.4 341.5,829.1 349.5,835.3 357.5,832.3 365.5,836.0 373.5,836.2 381.5,851.1 389.5,853.1 397.5,842.6 405.5,847.9 413.5,843.6 421.5,848.8 429.5,853.1 437.5,852.2 445.5,859.2 453.5,850.1 461.5,853.5 469.5,838.5 477.5,849.4 485.5,848.4 493.5,854.1 501.5,852.2 509.5,856.0 517.5,858.2 525.5,866.1 533.5,858.2 541.5,856.3 549.5,859.5 557.5,853.5 565.5,860.5 573.5,845.4 581.5,862.4 589.5,852.2 597.5,853.5 605.5,855.4 613.5,855.4 621.5,858.6 629.5,866.3 637.5,870.4 645.5,870.4 653.5,865.4 661.5,868.6 669.5,871.9 677.5,849.8 685.5,835.3 693.5,837.0 701.5,840.4 709.5,832.5 717.5,829.5 725.5,830.6 733.5,832.5 741.5,830.6 749.5,820.6 757.5,826.3 765.5,833.2 773.5,854.5 781.5,852.2 789.5,850.3 797.5,851.3 805.5,850.1 813.5,838.5 821.5,852.6 829.5,849.4 837.5,849.4 845.5,854.1 853.5,856.3 861.5,861.4 869.5,858.2 877.5,848.8 885.5,847.5 893.5,851.3 901.5,852.6 909.5,833.2 917.5,824.4 925.5,811.2 933.5,809.3 941.5,815.9 949.5,820.2 957.5,833.4 965.5,821.6 973.5,822.5 981.5,821.6 989.5,818.2 997.5,833.2 1005.5,838.1 1013.5,839.4 1021.5,851.3 1029.5,853.5 1037.5,847.9 1045.5,841.3 1053.5,832.5 1061.5,835.3 1069.5,833.2 1077.5,834.3 1085.5,843.2 1093.5,849.2 1101.5,829.5 1109.5,838.1 1117.5,846.0 1125.5,844.5 1133.5,840.0 1141.5,850.1 1149.5,849.4 1157.5,858.2 1165.5,862.0 1173.5,863.3 1181.5,865.2 1189.5,874.2 1197.5,875.7 1205.5,881.3 1213.5,885.5 1221.5,884.5 1229.5,883.6 1237.5,889.2 1245.5,891.1 1253.5,893.4 1261.5,883.6 1269.5,880.4 1277.5,883.2 1285.5,885.5 1293.5,878.3 1301.5,843.2 1309.5,835.3 1317.5,837.2 1325.5,838.9 1333.5,828.1 1341.5,819.1 1349.5,829.1 1357.5,824.0 1365.5,822.5 1373.5,827.2 1381.5,834.3 1389.5,836.6 1397.5,832.5 1405.5,830.4 1413.5,829.1 1421.5,833.4 1429.5,830.4 1437.5,816.9 1445.5,808.0 1453.5,811.2 1461.5,813.1"/>
</g>
<line x1="1376.2" y1="622.4" x2="1470.8" y2="592.0" stroke="#ff0000" stroke-width="3.2"/>
<polygon points="1477.5,589.9 1467.4,597.9 1469.9,592.3 1464.7,589.3" fill="#ff0000"/>
<line x1="1319.9" y1="842.8" x2="1476.2" y2="813.5" stroke="#ff0000" stroke-width="3.2"/>
<polygon points="1483.1,812.2 1472.1,818.8 1475.2,813.7 1470.5,810.0" fill="#ff0000"/>
<g shape-rendering="crispEdges" fill="#000">
<rect x="0" y="25" width="1656" height="1"/>
<rect x="1655" y="25" width="1" height="902"/>
<rect x="0" y="578" width="1656" height="1"/>
<rect x="0" y="580" width="1656" height="1"/>
<rect x="0" y="750" width="1656" height="1"/>
<rect x="0" y="752" width="1656" height="1"/>
<rect x="0" y="926" width="1656" height="1"/>
<rect x="1655" y="579" width="1" height="1" fill="#fff"/>
<rect x="1655" y="751" width="1" height="1" fill="#fff"/>
<rect x="1656" y="47" width="2" height="1"/>
<rect x="1656" y="80" width="2" height="1"/>
<rect x="1656" y="113" width="2" height="1"/>
<rect x="1656" y="146" width="2" height="1"/>
<rect x="1656" y="179" width="2" height="1"/>
<rect x="1656" y="212" width="2" height="1"/>
<rect x="1656" y="245" width="2" height="1"/>
<rect x="1656" y="278" width="2" height="1"/>
<rect x="1656" y="311" width="2" height="1"/>
<rect x="1656" y="344" width="2" height="1"/>
<rect x="1656" y="377" width="2" height="1"/>
<rect x="1656" y="410" width="2" height="1"/>
<rect x="1656" y="443" width="2" height="1"/>
<rect x="1656" y="476" width="2" height="1"/>
<rect x="1656" y="509" width="2" height="1"/>
<rect x="1656" y="542" width="2" height="1"/>
<rect x="1656" y="575" width="2" height="1"/>
<rect x="1656" y="582" width="2" height="1"/>
<rect x="1656" y="626" width="2" height="1"/>
<rect x="1656" y="748" width="2" height="1"/>
<rect x="1656" y="754" width="2" height="1"/>
<rect x="1656" y="788" width="2" height="1"/>
<rect x="1656" y="839" width="2" height="1"/>
<rect x="1656" y="900" width="2" height="1"/>
<rect x="1656" y="924" width="2" height="1"/>
<rect x="61" y="927" width="1" height="3"/>
<rect x="125" y="927" width="1" height="3"/>
<rect x="189" y="927" width="1" height="3"/>
<rect x="253" y="927" width="1" height="3"/>
<rect x="317" y="927" width="1" height="3"/>
<rect x="381" y="927" width="1" height="3"/>
<rect x="445" y="927" width="1" height="3"/>
<rect x="509" y="927" width="1" height="3"/>
<rect x="573" y="927" width="1" height="3"/>
<rect x="637" y="927" width="1" height="3"/>
<rect x="701" y="927" width="1" height="3"/>
<rect x="765" y="927" width="1" height="3"/>
<rect x="829" y="927" width="1" height="3"/>
<rect x="893" y="927" width="1" height="3"/>
<rect x="957" y="927" width="1" height="3"/>
<rect x="1021" y="927" width="1" height="3"/>
<rect x="1085" y="927" width="1" height="3"/>
<rect x="1149" y="927" width="1" height="3"/>
<rect x="1213" y="927" width="1" height="3"/>
<rect x="1277" y="927" width="1" height="3"/>
<rect x="1341" y="927" width="1" height="3"/>
<rect x="1405" y="927" width="1" height="3"/>
</g>
<g font-size="9.2" fill="#000" style="font-family:'Liberation Sans',sans-serif">
<text x="1661.5" y="50.9">1.41370</text>
<text x="1661.5" y="83.9">1.41010</text>
<text x="1661.5" y="116.9">1.40650</text>
<text x="1661.5" y="149.9">1.40290</text>
<text x="1661.5" y="182.9">1.39930</text>
<text x="1661.5" y="215.9">1.39570</text>
<text x="1661.5" y="248.9">1.39200</text>
<text x="1661.5" y="281.9">1.38840</text>
<text x="1661.5" y="314.9">1.38480</text>
<text x="1661.5" y="347.9">1.38120</text>
<text x="1661.5" y="380.9">1.37760</text>
<text x="1661.5" y="413.9">1.37400</text>
<text x="1661.5" y="446.9">1.37030</text>
<text x="1661.5" y="479.9">1.36670</text>
<text x="1661.5" y="512.9">1.36310</text>
<text x="1661.5" y="545.9">1.35950</text>
<text x="1661.5" y="578.9">1.35590</text>
<text x="1659" y="590.3">0.002808</text>
<text x="1659" y="629.3">0.00</text>
<text x="1659" y="746.2">-0.007859</text>
<text x="1659" y="762.5">100</text>
<text x="1658.2" y="792">80</text>
<text x="1658.2" y="843">50</text>
<text x="1658.2" y="904">15</text>
<text x="1659" y="923">0</text>
<text x="-2.7" y="939" font-size="9.05">14 Jun 2021</text>
<text x="61.3" y="939" font-size="9.05">15 Jun 16:00</text>
<text x="125.3" y="939" font-size="9.05">17 Jun 00:00</text>
<text x="189.3" y="939" font-size="9.05">18 Jun 08:00</text>
<text x="253.3" y="939" font-size="9.05">21 Jun 16:00</text>
<text x="317.3" y="939" font-size="9.05">23 Jun 00:00</text>
<text x="381.3" y="939" font-size="9.05">24 Jun 08:00</text>
<text x="445.3" y="939" font-size="9.05">25 Jun 16:00</text>
<text x="509.3" y="939" font-size="9.05">29 Jun 00:00</text>
<text x="573.3" y="939" font-size="9.05">30 Jun 08:00</text>
<text x="637.3" y="939" font-size="9.05">1 Jul 16:00</text>
<text x="701.3" y="939" font-size="9.05">5 Jul 00:00</text>
<text x="765.3" y="939" font-size="9.05">6 Jul 08:00</text>
<text x="829.3" y="939" font-size="9.05">7 Jul 16:00</text>
<text x="893.3" y="939" font-size="9.05">9 Jul 00:00</text>
<text x="957.3" y="939" font-size="9.05">12 Jul 08:00</text>
<text x="1021.3" y="939" font-size="9.05">13 Jul 16:00</text>
<text x="1085.3" y="939" font-size="9.05">15 Jul 00:00</text>
<text x="1149.3" y="939" font-size="9.05">16 Jul 08:00</text>
<text x="1213.3" y="939" font-size="9.05">19 Jul 16:00</text>
<text x="1277.3" y="939" font-size="9.05">21 Jul 00:00</text>
<text x="1341.3" y="939" font-size="9.05">22 Jul 08:00</text>
<text x="1405.3" y="939" font-size="9.05">23 Jul 16:00</text>
<text x="1.5" y="593">MACD(12,26,9) 0.002323 0.001304</text>
<text x="1.5" y="765">RSI(14) 65.1286</text>
</g>
<rect x="1657" y="288" width="41" height="11" fill="#ff4500" shape-rendering="crispEdges"/>
<text x="1661.5" y="297" font-size="9.2" fill="#fff" style="font-family:'Liberation Sans',sans-serif">1.38668</text>
<rect x="1657" y="308" width="41" height="11" fill="#ff0000" shape-rendering="crispEdges"/>
<text x="1661.5" y="317" font-size="9.2" fill="#fff" style="font-family:'Liberation Sans',sans-serif">1.38449</text>
<rect x="1657" y="334" width="41" height="11" fill="#000000" shape-rendering="crispEdges"/>
<text x="1661.5" y="343" font-size="9.2" fill="#fff" style="font-family:'Liberation Sans',sans-serif">1.38175</text>
<rect x="1657" y="350" width="41" height="11" fill="#32cd32" shape-rendering="crispEdges"/>
<text x="1661.5" y="359" font-size="9.2" fill="#fff" style="font-family:'Liberation Sans',sans-serif">1.37989</text>
<rect x="1657" y="369" width="41" height="11" fill="#0000ff" shape-rendering="crispEdges"/>
<text x="1661.5" y="378" font-size="9.2" fill="#fff" style="font-family:'Liberation Sans',sans-serif">1.37781</text>
<rect x="1657" y="393" width="41" height="11" fill="#0000ff" shape-rendering="crispEdges"/>
<text x="1661.5" y="402" font-size="9.2" fill="#fff" style="font-family:'Liberation Sans',sans-serif">1.37519</text>
<g shape-rendering="crispEdges">
<rect x="0" y="45" width="221" height="59" fill="#fff"/>
<rect x="0" y="45" width="52" height="24" fill="url(#gb1)"/>
<rect x="167" y="45" width="52" height="24" fill="url(#gb1)"/>
<rect x="0" y="69" width="109" height="33" fill="url(#gb2)"/>
<rect x="111" y="69" width="108" height="33" fill="url(#gb2)"/>
<rect x="4" y="69" width="44" height="1" fill="#9a9af0"/>
<rect x="171" y="69" width="44" height="1" fill="#9a9af0"/>
<rect x="54.5" y="46.5" width="110" height="20" fill="#fff" stroke="#b4b4b4"/>
<rect x="55" y="47" width="20" height="19" fill="url(#gbtn)"/>
<rect x="144" y="47" width="20" height="19" fill="url(#gbtn)"/>
<rect x="75" y="47" width="1" height="19" fill="#b4b4b4"/><rect x="143" y="47" width="1" height="19" fill="#b4b4b4"/>
</g>
<polygon points="61.5,53.5 67.5,53.5 64.5,57" fill="#5a6ab0"/>
<polygon points="150.5,57 156.5,57 153.5,53.5" fill="#5a6ab0"/>
<g style="font-family:'Liberation Sans',sans-serif" fill="#fff">
<text x="12.5" y="61" font-size="12.5" textLength="25.5" lengthAdjust="spacingAndGlyphs">SELL</text>
<text x="180.5" y="61" font-size="12.5" textLength="23.3" lengthAdjust="spacingAndGlyphs">BUY</text>
<text x="140" y="60" font-size="12.5" text-anchor="end" fill="#222">1.00</text>
<text x="20.5" y="97" font-size="11.5" font-weight="bold">1.38</text>
<text x="131" y="97" font-size="11.5" font-weight="bold">1.38</text>
<text x="48" y="96.3" font-size="33" textLength="34" lengthAdjust="spacingAndGlyphs">17</text>
<text x="158.5" y="96.3" font-size="33" textLength="35" lengthAdjust="spacingAndGlyphs">20</text>
<text x="87.5" y="81" font-size="11.5" font-weight="bold">5</text>
<text x="198.5" y="81" font-size="11.5" font-weight="bold">8</text>
</g>
<polygon points="0,37 7,37 3.5,33" fill="#000"/>
<text x="12.5" y="36.5" font-size="9.3" fill="#000" style="font-family:'Liberation Sans',sans-serif" xml:space="preserve">GBPUSD-,H4  1.38212 1.38220 1.38147 1.38175</text>
<g shape-rendering="crispEdges">
<rect x="0" y="0" width="1702" height="20" fill="#f0f0f0"/>
<rect x="0" y="20" width="1702" height="1" fill="#f5f5f5"/>
<rect x="0" y="21" width="1702" height="1" fill="#b8b8b8"/>
<rect x="0" y="22" width="1702" height="1" fill="#6c6c6c"/>
<rect x="0" y="23" width="1702" height="2" fill="#fff"/>
<rect x="1701" y="23" width="1" height="919" fill="#e2e2e2"/>
<rect x="292" y="0" width="24" height="19" fill="url(#hatch)"/>
<rect x="315" y="0" width="1" height="20" fill="#fff"/>
<rect x="291" y="19" width="25" height="1" fill="#fff"/>
<rect x="443" y="0" width="25" height="19" fill="url(#hatch)"/>
<rect x="467" y="0" width="1" height="20" fill="#fff"/>
<rect x="442" y="19" width="26" height="1" fill="#fff"/>
<rect x="471" y="0" width="25" height="19" fill="url(#hatch)"/>
<rect x="495" y="0" width="1" height="20" fill="#fff"/>
<rect x="470" y="19" width="26" height="1" fill="#fff"/>
<rect x="631" y="0" width="25" height="19" fill="url(#hatch)"/>
<rect x="655" y="0" width="1" height="20" fill="#fff"/>
<rect x="630" y="19" width="26" height="1" fill="#fff"/>
<rect x="1077" y="0" width="24" height="19" fill="url(#hatch)"/>
<rect x="1100" y="0" width="1" height="20" fill="#fff"/>
<rect x="1076" y="19" width="25" height="1" fill="#fff"/>
<rect x="16" y="0" width="1" height="19" fill="#a0a0a0"/>
<rect x="290" y="0" width="1" height="19" fill="#a0a0a0"/>
<rect x="347" y="0" width="1" height="19" fill="#a0a0a0"/>
<rect x="437" y="0" width="1" height="19" fill="#a0a0a0"/>
<rect x="442" y="0" width="1" height="19" fill="#a0a0a0"/>
<rect x="470" y="0" width="1" height="19" fill="#a0a0a0"/>
<rect x="499" y="0" width="1" height="19" fill="#a0a0a0"/>
<rect x="687" y="0" width="1" height="19" fill="#a0a0a0"/>
<rect x="1076" y="0" width="1" height="19" fill="#a0a0a0"/>
<rect x="252" y="0" width="1" height="21" fill="#a0a0a0"/>
<rect x="620" y="0" width="1" height="21" fill="#a0a0a0"/>
<rect x="630" y="0" width="1" height="21" fill="#a0a0a0"/>
<rect x="926" y="0" width="1" height="21" fill="#a0a0a0"/>
<rect x="1187" y="0" width="1" height="21" fill="#a0a0a0"/>
<rect x="256" y="2" width="3" height="1" fill="#a8a8a8"/>
<rect x="256" y="4" width="3" height="1" fill="#a8a8a8"/>
<rect x="256" y="6" width="3" height="1" fill="#a8a8a8"/>
<rect x="256" y="8" width="3" height="1" fill="#a8a8a8"/>
<rect x="256" y="10" width="3" height="1" fill="#a8a8a8"/>
<rect x="256" y="12" width="3" height="1" fill="#a8a8a8"/>
<rect x="256" y="14" width="3" height="1" fill="#a8a8a8"/>
<rect x="256" y="16" width="3" height="1" fill="#a8a8a8"/>
<rect x="256" y="18" width="3" height="1" fill="#a8a8a8"/>
<rect x="624" y="2" width="3" height="1" fill="#a8a8a8"/>
<rect x="624" y="4" width="3" height="1" fill="#a8a8a8"/>
<rect x="624" y="6" width="3" height="1" fill="#a8a8a8"/>
<rect x="624" y="8" width="3" height="1" fill="#a8a8a8"/>
<rect x="624" y="10" width="3" height="1" fill="#a8a8a8"/>
<rect x="624" y="12" width="3" height="1" fill="#a8a8a8"/>
<rect x="624" y="14" width="3" height="1" fill="#a8a8a8"/>
<rect x="624" y="16" width="3" height="1" fill="#a8a8a8"/>
<rect x="624" y="18" width="3" height="1" fill="#a8a8a8"/>
<rect x="930" y="2" width="3" height="1" fill="#a8a8a8"/>
<rect x="930" y="4" width="3" height="1" fill="#a8a8a8"/>
<rect x="930" y="6" width="3" height="1" fill="#a8a8a8"/>
<rect x="930" y="8" width="3" height="1" fill="#a8a8a8"/>
<rect x="930" y="10" width="3" height="1" fill="#a8a8a8"/>
<rect x="930" y="12" width="3" height="1" fill="#a8a8a8"/>
<rect x="930" y="14" width="3" height="1" fill="#a8a8a8"/>
<rect x="930" y="16" width="3" height="1" fill="#a8a8a8"/>
<rect x="930" y="18" width="3" height="1" fill="#a8a8a8"/>
</g>
<line x1="4" y1="12.5" x2="8.5" y2="17" stroke="#c9a227" stroke-width="2.6" stroke-linecap="round"/>
<circle cx="-1" cy="8" r="5.2" fill="#d4e8fb" stroke="#5b93d6" stroke-width="1.4"/>
<path d="M13.5 11.1l1.4 1.4l-1.4 1.4l-1.4-1.4z" fill="#f0f0f0" stroke="#101010" stroke-width="0.9"/>
<path d="M26.5 2.5h8l3.5 3.5v8.5h-11.5z" fill="#fdfdfd" stroke="#8a8a8a" stroke-width="1"/>
<path d="M34.5 2.5v3.5h3.5" fill="#e0e0e0" stroke="#8a8a8a" stroke-width="0.8"/>
<g fill="#9a9a9a" shape-rendering="crispEdges"><rect x="29" y="5" width="4" height="1"/><rect x="29" y="8" width="6" height="1"/><rect x="29" y="10" width="4" height="1"/></g>
<path d="M34.5 7.5h3.6v3.8h3.8v3.6h-3.8v3.8h-3.6v-3.8h-3.8v-3.6h3.8z" fill="url(#ggr)" stroke="#0a8a0a" stroke-width="0.9"/>
<text x="45 56.85 68.7" y="12.2" font-size="12" fill="#000" stroke="#000" stroke-width="0.25" style="font-family:'Liberation Sans','Noto Sans CJK SC',sans-serif">新订单</text>
<defs><linearGradient id="ggold" x1="0" y1="0" x2="1" y2="1"><stop offset="0" stop-color="#d9a21a"/><stop offset="0.45" stop-color="#f8dc58"/><stop offset="1" stop-color="#d09a14"/></linearGradient></defs>
<path d="M93.2 10.800L101.500 14.800L109 10L109 11.900L101.400 16.900L93 12.700Z" fill="#a87408" stroke="#8a5a04" stroke-width="0.6"/>
<path d="M98.700 2.200L109 10L101.500 14.800L93.200 10.800Z" fill="url(#ggold)" stroke="#a87408" stroke-width="0.9"/>
<path d="M102.300 15.300l6.300-4.200" stroke="#f0d890" stroke-width="0.6"/>
<path d="M123.5 2l7.5-1l3 1.5v7h-10.5z" fill="#2f8fe8" stroke="#1565c0" stroke-width="0.8"/>
<path d="M126.5 2.5v7" stroke="#bfe0ff" stroke-width="1"/><path d="M128 5.5h5" stroke="#d8ecff" stroke-width="1.2"/>
<path d="M124 17c-2.2 0-3.2-1.4-3-2.8c0.2-1.4 1.5-2.2 2.8-2c0.5-1.8 2-2.8 3.8-2.6c1.6 0.2 2.6 1.2 3 2.4c1.2-0.8 3-0.5 3.8 0.6c0.6 0.8 0.6 1.6 0.4 2.2c1.2 0.2 1.6 1 1.4 1.6c-0.2 0.6-0.8 0.6-1.6 0.6z" fill="#edf1f8" stroke="#5d7db5" stroke-width="1.1"/>
<path d="M157 8.500L164.600 8.500A7.600 7.600 0 0 1 157 16.100Z" fill="#9ccf98" opacity="0.85"/>
<path d="M157 1.200A7.300 7.300 0 0 0 157 15.800" fill="none" stroke="#a9bfe4" stroke-width="1.1"/>
<path d="M157 1.200A7.300 7.300 0 0 1 164.300 8.500" fill="none" stroke="#b4cdb8" stroke-width="1.1"/>
<path d="M157 3.500A5 5 0 0 0 157 13.500" fill="none" stroke="#7d9fdc" stroke-width="1.1"/>
<path d="M157 3.500A5 5 0 0 1 162 8.500" fill="none" stroke="#94b8a8" stroke-width="1.1"/>
<path d="M157 5.700A2.800 2.800 0 0 0 157 11.300" fill="none" stroke="#4a78d0" stroke-width="1.1"/>
<circle cx="156.800" cy="8.300" r="1.700" fill="#2a5fd0"/>
<path d="M157.400 9v7.400" stroke="#22a022" stroke-width="1.500"/>
<path d="M157.400 16.300c3.800-0.200 6.800-3.200 7.100-7.200" fill="none" stroke="#4aa84a" stroke-width="1.200"/>
<path d="M177.5 7.5l13 0.5l0 3l-6 6.5l-3-1.5z" fill="#f4d84a" stroke="#c29a10" stroke-width="0.9"/>
<ellipse cx="184" cy="5.8" rx="7.6" ry="2.6" fill="#4a9be0" stroke="#2a70b8" stroke-width="0.8"/>
<path d="M180 5.2c0-2.6 1.8-4 4-4s4 1.4 4 4z" fill="#62aee8" stroke="#2a70b8" stroke-width="0.8"/>
<circle cx="188.3" cy="12.6" r="4.2" fill="#dd2211" stroke="#b01005" stroke-width="0.6"/>
<rect x="186.5" y="10.8" width="3.6" height="3.6" fill="#fff"/>
<text x="197.2 209.05 220.9 232.75" y="12.2" font-size="12" fill="#000" stroke="#000" stroke-width="0.25" style="font-family:'Liberation Sans','Noto Sans CJK SC',sans-serif">自动交易</text>
<g fill="#505050" shape-rendering="crispEdges">
<rect x="270" y="3" width="1" height="14"/>
<rect x="268" y="14" width="12" height="1"/>
</g>
<polygon points="268.8,5.2 270.5,2.8 272.2,5.2" fill="#505050"/>
<polygon points="279.2,12.8 281.8,14.5 279.2,16.2" fill="#505050"/>
<g fill="#18a018"><rect x="276.2" y="4.2" width="1.5" height="8.300"/><rect x="277.500" y="4.900" width="2.200" height="1.300"/><rect x="274.200" y="10.900" width="2.200" height="1.300"/></g>
<g fill="#505050" shape-rendering="crispEdges">
<rect x="298" y="3" width="1" height="14"/>
<rect x="296" y="14" width="12" height="1"/>
</g>
<polygon points="296.8,5.2 298.5,2.8 300.2,5.2" fill="#505050"/>
<polygon points="307.2,12.8 309.8,14.5 307.2,16.2" fill="#505050"/>
<g shape-rendering="crispEdges"><rect x="304" y="1" width="1" height="12" fill="#0a8a0a"/><rect x="302.5" y="3.5" width="4" height="7" fill="url(#ggr2)" stroke="#0a8a0a"/></g>
<g fill="#505050" shape-rendering="crispEdges">
<rect x="326" y="3" width="1" height="14"/>
<rect x="324" y="14" width="12" height="1"/>
</g>
<polygon points="324.8,5.2 326.5,2.8 328.2,5.2" fill="#505050"/>
<polygon points="335.2,12.8 337.8,14.5 335.2,16.2" fill="#505050"/>
<path d="M325 11.5c3-1.5 4-5.3 6.2-5.3c2 0 3.3 3 5.8 4.3" fill="none" stroke="#2a9a2a" stroke-width="1.2"/>
<line x1="366.4" y1="11.5" x2="371.4" y2="16" stroke="#c9a227" stroke-width="2.8" stroke-linecap="round"/>
<line x1="366.4" y1="11.5" x2="371.4" y2="16" stroke="#f2dc7a" stroke-width="1" stroke-linecap="round"/>
<circle cx="361.9" cy="6.9" r="5.4" fill="#d6e9fb" stroke="#4a88d4" stroke-width="1.4"/>
<rect x="358.9" y="6" width="6" height="1.8" fill="#3b78c8"/>
<rect x="361.0" y="3.9" width="1.8" height="6" fill="#3b78c8"/>
<line x1="394.6" y1="11.5" x2="399.6" y2="16" stroke="#c9a227" stroke-width="2.8" stroke-linecap="round"/>
<line x1="394.6" y1="11.5" x2="399.6" y2="16" stroke="#f2dc7a" stroke-width="1" stroke-linecap="round"/>
<circle cx="390.1" cy="6.9" r="5.4" fill="#d6e9fb" stroke="#4a88d4" stroke-width="1.4"/>
<rect x="387.1" y="6" width="6" height="1.8" fill="#3b78c8"/>
<rect x="412" y="1" width="7.8" height="7.8" rx="0.8" fill="#3aa828" stroke="#1f8a14" stroke-width="0.6"/>
<rect x="413.2" y="3.6" width="5.4" height="3.9" fill="#f4faff" opacity="0.95"/>
<rect x="414.2" y="5.5" width="3.4" height="0.9" fill="#3aa828"/>
<rect x="420.2" y="1" width="7.8" height="7.8" rx="0.8" fill="#2a62d8" stroke="#1546b4" stroke-width="0.6"/>
<rect x="421.4" y="3.6" width="5.4" height="3.9" fill="#f4faff" opacity="0.95"/>
<rect x="422.4" y="5.5" width="3.4" height="0.9" fill="#2a62d8"/>
<rect x="412" y="9.2" width="7.8" height="7.8" rx="0.8" fill="#2a62d8" stroke="#1546b4" stroke-width="0.6"/>
<rect x="413.2" y="11.799999999999999" width="5.4" height="3.9" fill="#f4faff" opacity="0.95"/>
<rect x="414.2" y="13.7" width="3.4" height="0.9" fill="#2a62d8"/>
<rect x="420.2" y="9.2" width="7.8" height="7.8" rx="0.8" fill="#3aa828" stroke="#1f8a14" stroke-width="0.6"/>
<rect x="421.4" y="11.799999999999999" width="5.4" height="3.9" fill="#f4faff" opacity="0.95"/>
<rect x="422.4" y="13.7" width="3.4" height="0.9" fill="#3aa828"/>
<g fill="#505050" shape-rendering="crispEdges">
<rect x="450" y="3" width="1" height="14"/>
<rect x="448" y="14" width="12" height="1"/>
</g>
<polygon points="448.8,5.2 450.5,2.8 452.2,5.2" fill="#505050"/>
<polygon points="459.2,12.8 461.8,14.5 459.2,16.2" fill="#505050"/>
<path d="M455 5.5l4 3.2l-4 3.2z" fill="#7be07b" stroke="#1a9a1a" stroke-width="1"/>
<g fill="#505050" shape-rendering="crispEdges">
<rect x="478" y="3" width="1" height="14"/>
<rect x="476" y="14" width="12" height="1"/>
</g>
<polygon points="476.8,5.2 478.5,2.8 480.2,5.2" fill="#505050"/>
<polygon points="487.2,12.8 489.8,14.5 487.2,16.2" fill="#505050"/>
<rect x="484" y="3" width="1" height="10" fill="#1a6fa8" shape-rendering="crispEdges"/>
<path d="M485.5 8.5l3-2.2v1.6h2v1.2h-2v1.6z" fill="#e84a10"/>
<path d="M509.5 1.5h7.5l3.5 3.5v9h-11z" fill="#fdfdfd" stroke="#8a8a8a" stroke-width="1"/>
<path d="M517 1.5v3.5h3.5" fill="#e0e0e0" stroke="#8a8a8a" stroke-width="0.8"/>
<path d="M512.5 4.5c-1.5 1-1.5 5 0 6" fill="none" stroke="#b0a080" stroke-width="0.9"/>
<path d="M517.4 7.5h3.6v3.8h3.8v3.6h-3.8v3.8h-3.6v-3.8h-3.8v-3.6h3.8z" fill="url(#ggr)" stroke="#0a8a0a" stroke-width="0.9"/>
<polygon points="531,8 536.6,8 533.8,11.2" fill="#000"/>
<polygon points="570,8 575.6,8 572.8,11.2" fill="#000"/>
<polygon points="608.8,8 614.4,8 611.5999999999999,11.2" fill="#000"/>
<polygon points="914.8,8 920.4,8 917.5999999999999,11.2" fill="#000"/>
<circle cx="555.1" cy="8.8" r="7.2" fill="#fdfdfd" stroke="#1668cc" stroke-width="2.2"/>
<circle cx="555.1" cy="8.8" r="5.6" fill="none" stroke="#9cc4ee" stroke-width="0.7"/>
<path d="M555 4.5v4.5h3.2" fill="none" stroke="#303030" stroke-width="1.1"/>
<rect x="586.5" y="2.5" width="15" height="13.5" fill="#fff" stroke="#3a72c4" stroke-width="1"/>
<rect x="587" y="3" width="14" height="2.2" fill="#5a94e0"/>
<rect x="587" y="10" width="14" height="0.9" fill="#3a72c4"/>
<path d="M588.5 8.5l2.5-0.3l1.5-1.2l2 0.4l1.5-0.9l2 0.5l2-1" fill="none" stroke="#b82a10" stroke-width="1.2"/>
<path d="M589.5 13.8l2.5-0.8l1.5 0.6l2.5-2.2l1.5 0.2l2 2" fill="none" stroke="#1a8a1a" stroke-width="1.2"/>
<path d="M638.3 2.2l0 11.4l2.7-2.6l2.2 5l1.9-0.8l-2.2-4.9l3.8-0.2z" fill="#4a4a4a"/>
<g fill="#505050" shape-rendering="crispEdges"><rect x="670" y="2" width="1" height="15"/><rect x="663" y="9" width="15" height="1"/><rect x="669" y="8" width="3" height="3" fill="#f0f0f0"/><rect x="670" y="9" width="1" height="1"/></g>
<g fill="#505050" shape-rendering="crispEdges"><rect x="704" y="3" width="1" height="13"/><rect x="727" y="9" width="12" height="1"/></g>
<line x1="754.6" y1="15.9" x2="766.9" y2="4" stroke="#505050" stroke-width="1.1"/>
<g stroke="#505050" stroke-width="1" fill="none"><line x1="781" y1="10.8" x2="791" y2="2.5"/><line x1="783" y1="15.5" x2="794.5" y2="6.5"/><line x1="783.5" y1="8.5" x2="785.5" y2="14"/><line x1="786.5" y1="6" x2="788.5" y2="11.5"/><line x1="789.5" y1="3.5" x2="791.5" y2="9.5"/><line x1="792.5" y1="1.5" x2="793.5" y2="7.5"/></g>
<g fill="#303030" shape-rendering="crispEdges"><rect x="792" y="13" width="1" height="5"/><rect x="792" y="13" width="4" height="1"/><rect x="792" y="15" width="3" height="1"/><rect x="792" y="17" width="4" height="1"/></g>
<g stroke="#505050" stroke-width="1" stroke-dasharray="1,1" shape-rendering="crispEdges"><line x1="810" y1="2.5" x2="823" y2="2.5"/><line x1="810" y1="5.5" x2="823" y2="5.5"/><line x1="810" y1="9.5" x2="823" y2="9.5"/><line x1="810" y1="13.5" x2="819" y2="13.5"/></g>
<g fill="#303030" shape-rendering="crispEdges"><rect x="820" y="13" width="1" height="5"/><rect x="820" y="13" width="4" height="1"/><rect x="820" y="15" width="3" height="1"/></g>
<text x="844.8" y="13.7" font-size="11.3" fill="#505050" stroke="#505050" stroke-width="0.35" text-anchor="middle" style="font-family:'Liberation Sans',sans-serif">A</text>
<rect x="867.5" y="3.5" width="11" height="12" fill="none" stroke="#505050" stroke-width="1" stroke-dasharray="1,1" shape-rendering="crispEdges"/>
<text x="872.7" y="14" font-size="10.8" fill="#505050" stroke="#505050" stroke-width="0.4" text-anchor="middle" style="font-family:'Liberation Sans',sans-serif">T</text>
<path d="M897.4 2.3l3.6 3.3l-3.6 2.6l-3.6-2.600z" fill="#404040"/><path d="M904.6 16.300l3.600-3.300l-3.600-2.600l-3.600 2.600z" fill="#404040"/>
<path d="M897.5 9.5l2.2 2.6l4.8-5.4" fill="none" stroke="#404040" stroke-width="1.4"/>
<g font-size="9.6" fill="#404040" text-anchor="middle" style="font-family:'Liberation Sans',sans-serif">
<text x="948" y="12.8">M1</text>
<text x="976" y="12.8">M5</text>
<text x="1004" y="12.8">M15</text>
<text x="1032" y="12.8">M30</text>
<text x="1060" y="12.8">H1</text>
<text x="1088" y="12.8">H4</text>
<text x="1116" y="12.8">D1</text>
<text x="1144" y="12.8">W1</text>
<text x="1172" y="12.8">MN</text>
</g>
<line x1="1654.6" y1="9.6" x2="1650" y2="13.8" stroke="#1f55c8" stroke-width="2.4" stroke-linecap="round"/>
<circle cx="1657.6" cy="6.4" r="3.8" fill="#f4f6ff" stroke="#2a5ed0" stroke-width="1.3"/>
<path d="M1674.5 10.5c0-2.6 2.2-4.2 5.5-4.2s5.5 1.6 5.5 4.2c0 2.4-2.2 4-5.5 4c-0.6 0-1.2 0-1.8-0.2l-1.4 2.4l-0.2-3c-1.4-0.8-2.1-1.8-2.1-3.200z" fill="#dfe3ee" stroke="#b8bcc8" stroke-width="0.9"/>
<circle cx="1688.4" cy="6.3" r="8.2" fill="url(#gred)"/>
<text x="1687.8" y="10.8" font-size="12" font-weight="bold" fill="#fff" text-anchor="middle" style="font-family:'Liberation Sans',sans-serif">1</text>
</svg>
</body></html>
